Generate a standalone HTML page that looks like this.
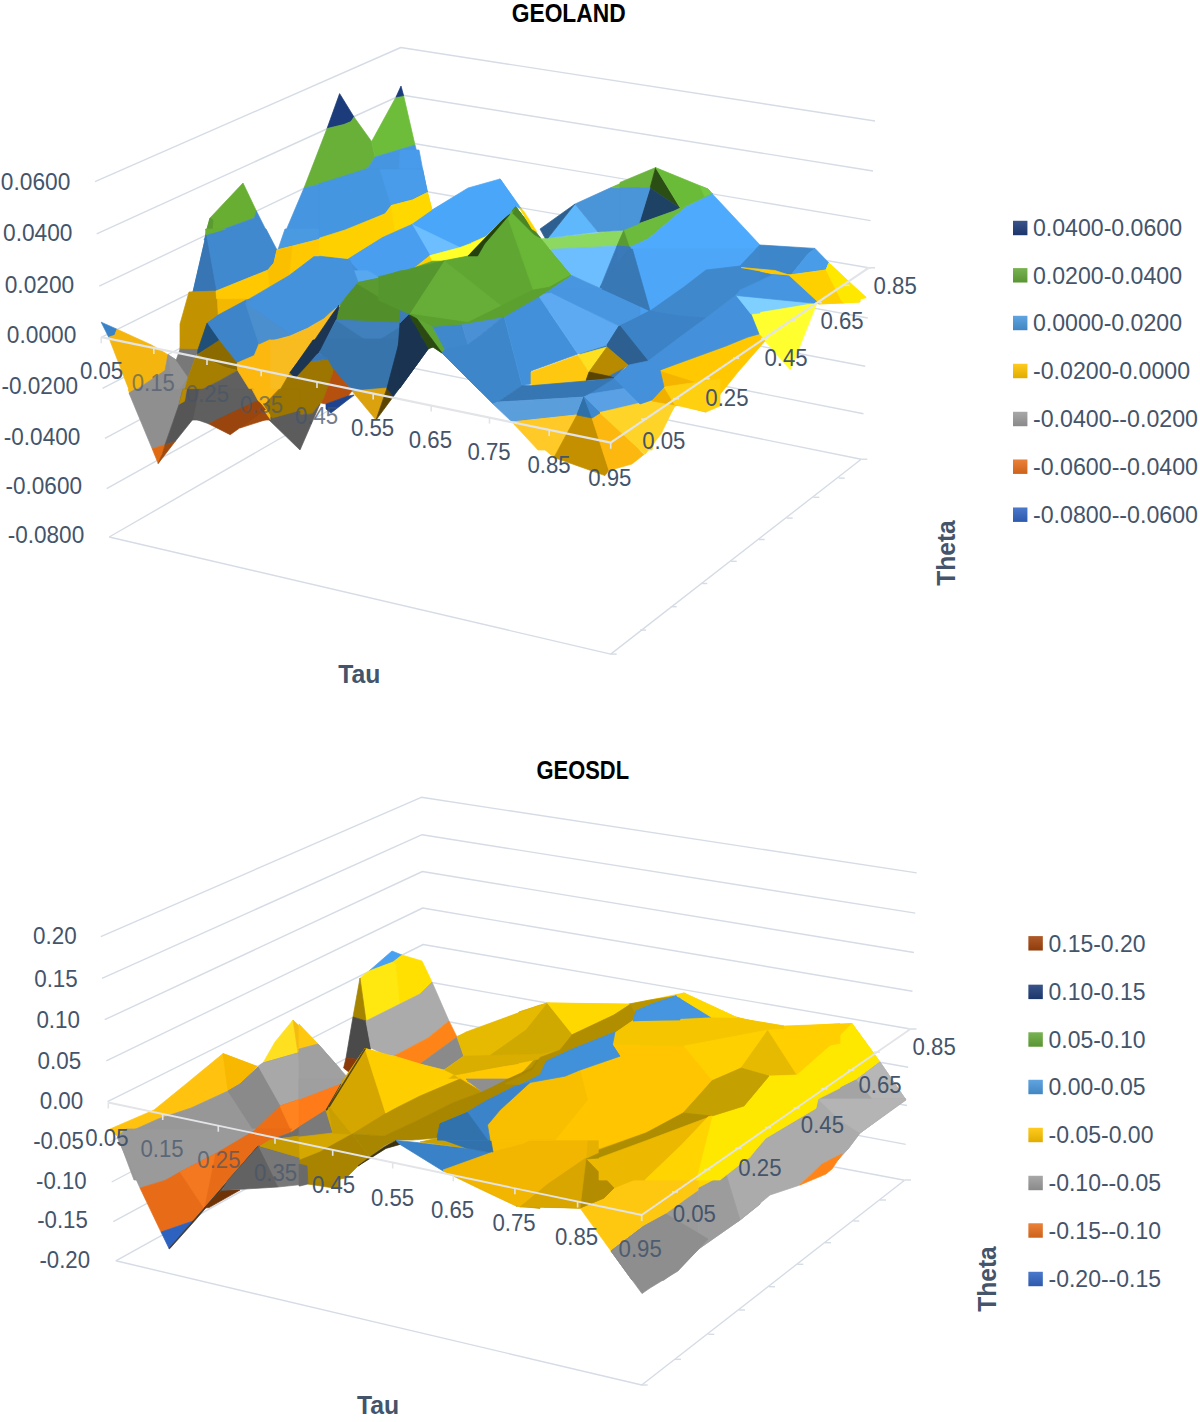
<!DOCTYPE html>
<html lang="en"><head><meta charset="utf-8"><title>GEOLAND / GEOSDL surface charts</title>
<style>
html,body{margin:0;padding:0;background:#fff;}
body{width:1200px;height:1422px;overflow:hidden;}
svg{display:block;font-family:"Liberation Sans", "DejaVu Sans", sans-serif;}
</style></head><body>
<svg width="1200" height="1422" viewBox="0 0 1200 1422">
<rect width="1200" height="1422" fill="#ffffff"/>
<defs>
<linearGradient id="sw" x1="0" y1="0" x2="0" y2="1"><stop offset="0" stop-color="#fff" stop-opacity="0.12"/><stop offset="1" stop-color="#000" stop-opacity="0.12"/></linearGradient>
</defs>

<g id='c1-walls'><polyline points="95.0,181.7 400.8,47.5 875.0,121.0" fill="none" stroke="#D6DCE5" stroke-width="1.4" stroke-linejoin="round"/>
<polyline points="96.7,233.8 401.3,95.0 873.0,171.0" fill="none" stroke="#D6DCE5" stroke-width="1.4" stroke-linejoin="round"/>
<polyline points="99.2,286.2 402.0,141.5 870.6,220.6" fill="none" stroke="#D6DCE5" stroke-width="1.4" stroke-linejoin="round"/>
<polyline points="101.2,337.3 402.6,187.5 868.6,267.8" fill="none" stroke="#D6DCE5" stroke-width="1.4" stroke-linejoin="round"/>
<polyline points="102.5,388.3 403.2,233.0 867.8,318.0" fill="none" stroke="#D6DCE5" stroke-width="1.4" stroke-linejoin="round"/>
<polyline points="105.0,438.3 403.8,278.0 865.2,366.2" fill="none" stroke="#D6DCE5" stroke-width="1.4" stroke-linejoin="round"/>
<polyline points="106.7,488.7 404.4,322.5 863.5,413.8" fill="none" stroke="#D6DCE5" stroke-width="1.4" stroke-linejoin="round"/>
<polyline points="109.2,537.0 405.0,366.5 861.2,459.3" fill="none" stroke="#D6DCE5" stroke-width="1.4" stroke-linejoin="round"/>
<polyline points="109.2,537 610.7,654.1 861.2,459.3" fill="none" stroke="#D6DCE5" stroke-width="1.4" stroke-linejoin="round"/>
<line x1="610.7" y1="654.1" x2="616.7" y2="654.1" stroke="#D6DCE5" stroke-width="1.4" />
<line x1="640.0" y1="630.1" x2="646.0" y2="630.1" stroke="#D6DCE5" stroke-width="1.4" />
<line x1="670.7" y1="606.7" x2="676.7" y2="606.7" stroke="#D6DCE5" stroke-width="1.4" />
<line x1="701.3" y1="583.5" x2="707.3" y2="583.5" stroke="#D6DCE5" stroke-width="1.4" />
<line x1="730.7" y1="561.3" x2="736.7" y2="561.3" stroke="#D6DCE5" stroke-width="1.4" />
<line x1="758.7" y1="539.5" x2="764.7" y2="539.5" stroke="#D6DCE5" stroke-width="1.4" />
<line x1="786.7" y1="518.1" x2="792.7" y2="518.1" stroke="#D6DCE5" stroke-width="1.4" />
<line x1="813.3" y1="497.3" x2="819.3" y2="497.3" stroke="#D6DCE5" stroke-width="1.4" />
<line x1="838.7" y1="478.1" x2="844.7" y2="478.1" stroke="#D6DCE5" stroke-width="1.4" />
<line x1="861.3" y1="459.2" x2="867.3" y2="459.2" stroke="#D6DCE5" stroke-width="1.4" />
<line x1="868.6" y1="267.8" x2="875.0" y2="267.8" stroke="#D6DCE5" stroke-width="1.4" /></g>
<g id='c1-surface'><polygon points="243.0,183.0 210.0,218.0 207.0,229.0 205.6,235.6 254.4,218.0 256.4,211.0" fill="#67AE33" stroke="#67AE33" stroke-width="0.7" stroke-linejoin="round"/>
<polygon points="210.0,218.0 207.0,229.0 205.6,235.6 212.0,234.0 213.0,220.0" fill="#5A9A32" stroke="#5A9A32" stroke-width="0.7" stroke-linejoin="round"/>
<polygon points="205.6,235.6 254.4,218.0 256.4,211.0 271.0,240.0 204.0,240.0" fill="#4189CE" stroke="#4189CE" stroke-width="0.7" stroke-linejoin="round"/>
<polygon points="339.6,93.6 327.0,128.6 344.0,124.4 351.0,121.6 354.0,117.0" fill="#1B3B7B" stroke="#1B3B7B" stroke-width="0.7" stroke-linejoin="round"/>
<polygon points="327.0,128.6 344.0,124.4 351.0,121.6 354.0,117.0 371.6,141.6 375.0,157.0 368.0,168.0 344.0,178.0 304.0,188.0" fill="#68B038" stroke="#68B038" stroke-width="0.7" stroke-linejoin="round"/>
<polygon points="371.6,141.6 396.0,97.0 403.6,95.6 415.0,145.0 375.0,157.0" fill="#6DBD3A" stroke="#6DBD3A" stroke-width="0.7" stroke-linejoin="round"/>
<polygon points="401.0,86.0 396.0,97.0 403.6,95.6" fill="#1B3B7B" stroke="#1B3B7B" stroke-width="0.7" stroke-linejoin="round"/>
<polygon points="304.0,188.0 344.0,178.0 368.0,168.0 375.0,157.0 415.0,145.0 420.0,164.0 420.0,195.0 392.0,205.0 386.0,212.0 352.0,228.0 316.0,239.0 312.0,240.0 282.0,240.0" fill="#4695E0" stroke="#4695E0" stroke-width="0.7" stroke-linejoin="round"/>
<polygon points="400.0,150.0 419.0,150.0 427.0,192.4 400.0,202.4 398.0,190.0" fill="#489BEA" stroke="#489BEA" stroke-width="0.7" stroke-linejoin="round"/>
<polygon points="400.0,202.4 427.0,192.4 432.0,210.0 412.0,224.0 400.0,228.4 398.0,216.0" fill="#FFD500" stroke="#FFD500" stroke-width="0.7" stroke-linejoin="round"/>
<polygon points="412.0,224.0 432.0,210.0 468.0,188.0 500.0,179.0 518.0,205.0 515.6,206.6 509.0,215.0 502.0,221.0 486.0,236.4 460.0,248.0 430.0,254.0" fill="#4AA6F8" stroke="#4AA6F8" stroke-width="0.7" stroke-linejoin="round"/>
<polygon points="400.0,228.4 412.0,224.0 430.0,254.0 426.0,257.0 416.0,267.0 400.0,272.0 398.0,250.0" fill="#4A9EF0" stroke="#4A9EF0" stroke-width="0.7" stroke-linejoin="round"/>
<polygon points="412.0,224.0 460.0,248.0 430.0,254.0" fill="#6CBEFF" stroke="#6CBEFF" stroke-width="0.7" stroke-linejoin="round"/>
<polygon points="430.0,254.0 460.0,248.0 486.0,236.4 502.0,221.0 470.0,254.0 467.0,257.0 442.0,261.0 416.0,267.0 426.0,257.0" fill="#FFD000" stroke="#FFD000" stroke-width="0.7" stroke-linejoin="round"/>
<polygon points="430.0,254.4 460.0,248.4 486.0,236.8 501.0,222.4 469.0,254.4 467.0,257.0 442.0,261.0" fill="#FFFF2A" stroke="#FFFF2A" stroke-width="0.7" stroke-linejoin="round"/>
<polygon points="509.0,215.0 502.0,221.0 470.0,254.0 468.0,256.0 477.0,256.0 484.0,244.0" fill="#24420E" stroke="#24420E" stroke-width="0.7" stroke-linejoin="round"/>
<polygon points="515.6,206.6 509.0,215.0 484.0,244.0 477.0,256.0 468.0,256.0 442.0,261.0 416.0,267.0 400.0,272.0 400.0,310.0 508.0,310.0 520.0,304.0 544.0,293.0 572.0,275.6 540.0,239.0" fill="#5FA732" stroke="#5FA732" stroke-width="0.7" stroke-linejoin="round"/>
<polygon points="509.6,216.0 515.6,206.6 540.0,239.0 572.0,275.6 544.0,293.0 532.0,288.0" fill="#6AB636" stroke="#6AB636" stroke-width="0.7" stroke-linejoin="round"/>
<polygon points="515.6,206.6 540.0,239.0 533.0,235.0 512.0,211.0" fill="#4A8526" stroke="#4A8526" stroke-width="0.7" stroke-linejoin="round"/>
<polygon points="400.0,272.0 416.0,267.0 444.0,261.0 412.0,310.0 400.0,310.0" fill="#56992D" stroke="#56992D" stroke-width="0.7" stroke-linejoin="round"/>
<polygon points="444.0,261.0 500.0,310.0 448.0,310.0" fill="#66AD38" stroke="#66AD38" stroke-width="0.7" stroke-linejoin="round"/>
<polygon points="532.0,288.0 544.0,293.0 520.0,304.0 528.0,295.0" fill="#7CC84A" stroke="#7CC84A" stroke-width="0.7" stroke-linejoin="round"/>
<polygon points="540.0,239.0 624.0,230.0 617.0,246.0 552.0,250.0 549.0,248.0" fill="#8CD860" stroke="#8CD860" stroke-width="0.7" stroke-linejoin="round"/>
<polygon points="624.0,230.0 640.0,225.0 640.0,244.0 630.0,247.6 617.0,246.0" fill="#6CBB3C" stroke="#6CBB3C" stroke-width="0.7" stroke-linejoin="round"/>
<polygon points="624.0,230.0 630.0,247.6 617.0,246.0" fill="#5A9A32" stroke="#5A9A32" stroke-width="0.7" stroke-linejoin="round"/>
<polygon points="575.0,204.0 598.0,232.0 548.0,238.0" fill="#60B8FC" stroke="#60B8FC" stroke-width="0.7" stroke-linejoin="round"/>
<polygon points="575.0,204.0 540.0,229.0 545.0,238.0 548.0,238.0" fill="#2D6090" stroke="#2D6090" stroke-width="0.7" stroke-linejoin="round"/>
<polygon points="575.0,204.0 611.0,187.6 630.0,188.0 640.0,186.0 640.0,225.0 624.0,230.0 598.0,232.0" fill="#4A94D8" stroke="#4A94D8" stroke-width="0.7" stroke-linejoin="round"/>
<polygon points="611.0,187.6 640.0,175.0 640.0,186.4 630.0,188.0" fill="#6CBB3C" stroke="#6CBB3C" stroke-width="0.7" stroke-linejoin="round"/>
<polygon points="550.0,249.4 617.0,246.0 600.0,287.6 586.0,282.0 572.0,275.6" fill="#6CBEFF" stroke="#6CBEFF" stroke-width="0.7" stroke-linejoin="round"/>
<polygon points="617.0,246.0 630.0,247.6 640.0,262.0 640.0,306.0 600.0,288.0" fill="#3878B8" stroke="#3878B8" stroke-width="0.7" stroke-linejoin="round"/>
<polygon points="630.0,247.6 640.0,244.0 640.0,262.0" fill="#4088CC" stroke="#4088CC" stroke-width="0.7" stroke-linejoin="round"/>
<polygon points="572.0,275.6 586.0,282.0 600.0,288.0 640.0,306.0 640.0,310.0 508.0,310.0 520.0,304.0 544.0,293.0" fill="#4896E0" stroke="#4896E0" stroke-width="0.7" stroke-linejoin="round"/>
<polygon points="620.0,182.4 655.6,167.6 650.0,187.6 620.0,188.0" fill="#6AB33C" stroke="#6AB33C" stroke-width="0.7" stroke-linejoin="round"/>
<polygon points="655.6,167.6 680.0,208.0 650.0,188.0" fill="#2B4E14" stroke="#2B4E14" stroke-width="0.7" stroke-linejoin="round"/>
<polygon points="650.0,188.0 680.0,208.0 674.0,211.0 639.0,223.6" fill="#1D4263" stroke="#1D4263" stroke-width="0.7" stroke-linejoin="round"/>
<polygon points="655.6,167.6 708.0,189.0 712.4,194.0 680.4,208.0" fill="#6ABB38" stroke="#6ABB38" stroke-width="0.7" stroke-linejoin="round"/>
<polygon points="700.0,186.0 708.0,189.0 712.4,194.0 705.0,197.4" fill="#74C842" stroke="#74C842" stroke-width="0.7" stroke-linejoin="round"/>
<polygon points="624.0,229.6 639.0,223.6 674.0,211.0 680.4,208.0 712.4,194.0 686.0,207.0 648.0,239.0 630.0,247.0" fill="#6CBB3C" stroke="#6CBB3C" stroke-width="0.7" stroke-linejoin="round"/>
<polygon points="620.0,188.0 650.0,187.6 639.0,223.6 624.0,229.6 620.0,230.0" fill="#4A94D8" stroke="#4A94D8" stroke-width="0.7" stroke-linejoin="round"/>
<polygon points="712.4,194.0 760.0,245.0 736.0,266.0 708.0,270.0 650.0,310.0 646.0,302.0 630.0,247.0 648.0,239.0 686.0,207.0" fill="#4DAAFC" stroke="#4DAAFC" stroke-width="0.7" stroke-linejoin="round"/>
<polygon points="617.0,246.0 630.0,247.0 646.0,302.0 650.0,310.0 620.0,310.0 617.0,290.0" fill="#3A7ABB" stroke="#3A7ABB" stroke-width="0.7" stroke-linejoin="round"/>
<polygon points="760.0,245.0 815.0,248.4 808.0,254.0 791.0,275.0 740.0,267.6 736.0,266.0" fill="#3E86CA" stroke="#3E86CA" stroke-width="0.7" stroke-linejoin="round"/>
<polygon points="815.0,248.4 829.0,263.0 826.0,270.0 791.0,275.0 808.0,254.0" fill="#489CE8" stroke="#489CE8" stroke-width="0.7" stroke-linejoin="round"/>
<polygon points="829.0,263.0 860.0,293.0 860.0,302.0 820.0,304.0 815.0,303.0 791.0,275.0 826.0,270.0" fill="#FFD500" stroke="#FFD500" stroke-width="0.7" stroke-linejoin="round"/>
<polygon points="829.0,263.0 860.0,293.0 860.0,302.0 842.0,303.0 826.0,270.0" fill="#FFE800" stroke="#FFE800" stroke-width="0.7" stroke-linejoin="round"/>
<polygon points="740.0,267.6 791.0,275.0 788.0,278.0" fill="#FFC800" stroke="#FFC800" stroke-width="0.7" stroke-linejoin="round"/>
<polygon points="708.0,270.0 736.0,266.0 740.0,267.6 788.0,278.0 744.0,288.0 728.0,298.0 686.0,310.0 650.0,310.0" fill="#3F86C9" stroke="#3F86C9" stroke-width="0.7" stroke-linejoin="round"/>
<polygon points="744.0,288.0 788.0,278.0 815.0,303.0 736.0,295.0" fill="#4595E0" stroke="#4595E0" stroke-width="0.7" stroke-linejoin="round"/>
<polygon points="736.0,295.0 815.0,303.0 780.0,310.0 748.0,310.0" fill="#80D0FF" stroke="#80D0FF" stroke-width="0.7" stroke-linejoin="round"/>
<polygon points="728.0,298.0 736.0,295.0 748.0,310.0 686.0,310.0" fill="#4896E0" stroke="#4896E0" stroke-width="0.7" stroke-linejoin="round"/>
<polygon points="780.0,310.0 815.0,303.0 810.0,310.0" fill="#FFFF40" stroke="#FFFF40" stroke-width="0.7" stroke-linejoin="round"/>
<polygon points="640.0,288.0 800.0,288.0 817.0,303.0 736.0,295.0 751.0,314.0 759.0,334.0 748.0,337.0 700.0,354.0 659.0,371.0 664.0,388.0 652.0,399.0 640.0,405.0 638.0,350.0" fill="#4590DA" stroke="#4590DA" stroke-width="0.7" stroke-linejoin="round"/>
<polygon points="648.0,311.0 680.0,298.0 736.0,295.0 740.0,304.0 708.0,318.0 660.0,332.0 640.0,327.0 640.0,316.0" fill="#3B7FC2" stroke="#3B7FC2" stroke-width="0.7" stroke-linejoin="round"/>
<polygon points="640.0,290.0 648.0,290.0 650.0,310.0 640.0,316.0" fill="#4A9EF0" stroke="#4A9EF0" stroke-width="0.7" stroke-linejoin="round"/>
<polygon points="640.0,348.0 648.0,360.0 640.0,366.0" fill="#2F5F90" stroke="#2F5F90" stroke-width="0.7" stroke-linejoin="round"/>
<polygon points="640.0,366.0 659.0,371.0 664.0,388.0 652.0,399.0 640.0,405.0" fill="#3A7CBE" stroke="#3A7CBE" stroke-width="0.7" stroke-linejoin="round"/>
<polygon points="736.0,295.0 817.0,303.0 751.0,314.0" fill="#80D0FF" stroke="#80D0FF" stroke-width="0.7" stroke-linejoin="round"/>
<polygon points="751.0,314.0 817.0,303.0 790.4,370.0 765.0,341.0 759.0,334.0" fill="#FFFF30" stroke="#FFFF30" stroke-width="0.7" stroke-linejoin="round"/>
<polygon points="800.0,289.0 838.0,289.0 818.0,303.6 814.0,302.0" fill="#FFCF00" stroke="#FFCF00" stroke-width="0.7" stroke-linejoin="round"/>
<polygon points="838.0,289.0 857.0,289.0 866.2,297.6 840.0,302.4 818.0,303.6" fill="#FFE800" stroke="#FFE800" stroke-width="0.7" stroke-linejoin="round"/>
<polygon points="659.0,371.0 700.0,354.0 724.0,346.0 748.0,337.0 759.0,334.0 765.0,341.0 738.0,372.0 706.0,412.0 680.0,405.0 674.0,406.0 652.0,399.0 664.0,388.0" fill="#FFC800" stroke="#FFC800" stroke-width="0.7" stroke-linejoin="round"/>
<polygon points="659.0,371.0 664.0,388.0 652.0,399.0 674.0,406.0 680.0,405.0 706.0,412.0 700.0,384.0" fill="#F5B400" stroke="#F5B400" stroke-width="0.7" stroke-linejoin="round"/>
<polygon points="640.0,404.6 653.0,399.0 675.0,406.0 656.0,436.0 652.0,450.0 640.0,450.0" fill="#FFD428" stroke="#FFD428" stroke-width="0.7" stroke-linejoin="round"/>
<polygon points="205.6,229.0 226.0,229.0 206.0,235.6" fill="#67AE33" stroke="#67AE33" stroke-width="0.7" stroke-linejoin="round"/>
<polygon points="206.0,235.6 226.0,230.0 266.0,229.0 277.0,250.0 274.0,263.0 268.0,270.0 216.0,291.0 193.0,292.0" fill="#4189CE" stroke="#4189CE" stroke-width="0.7" stroke-linejoin="round"/>
<polygon points="206.0,235.6 216.0,291.0 193.0,292.0" fill="#3775B4" stroke="#3775B4" stroke-width="0.7" stroke-linejoin="round"/>
<polygon points="285.0,229.0 348.0,229.0 318.0,239.6 278.0,249.6" fill="#4A9AE2" stroke="#4A9AE2" stroke-width="0.7" stroke-linejoin="round"/>
<polygon points="189.0,292.0 216.0,291.0 218.0,316.0 207.0,322.4 197.0,354.0 180.0,350.0 180.0,324.0" fill="#C49400" stroke="#C49400" stroke-width="0.7" stroke-linejoin="round"/>
<polygon points="216.0,291.0 268.0,270.0 274.0,263.0 277.0,250.0 318.0,239.6 348.0,230.0 397.0,230.0 348.0,258.0 314.0,256.6 289.0,275.6 244.0,302.0 218.0,316.0" fill="#FFC800" stroke="#FFC800" stroke-width="0.7" stroke-linejoin="round"/>
<polygon points="268.0,270.0 274.0,263.0 277.0,250.0 292.0,246.4 289.0,275.6 270.0,287.0" fill="#FAC000" stroke="#FAC000" stroke-width="0.7" stroke-linejoin="round"/>
<polygon points="244.0,302.0 289.0,275.6 314.0,256.6 348.0,258.0 356.0,283.0 340.0,305.0 328.0,314.0 308.0,328.0 290.0,336.0" fill="#4592DC" stroke="#4592DC" stroke-width="0.7" stroke-linejoin="round"/>
<polygon points="207.0,322.4 218.0,316.0 244.0,302.0 256.0,342.0 255.0,356.0 238.0,363.0 220.0,344.0" fill="#3F88CC" stroke="#3F88CC" stroke-width="0.7" stroke-linejoin="round"/>
<polygon points="244.0,302.0 290.0,336.0 260.0,344.0 255.0,356.0 256.0,342.0" fill="#4C8FCE" stroke="#4C8FCE" stroke-width="0.7" stroke-linejoin="round"/>
<polygon points="348.0,258.0 380.0,278.0 356.0,283.0" fill="#58A8F0" stroke="#58A8F0" stroke-width="0.7" stroke-linejoin="round"/>
<polygon points="348.0,258.0 397.0,230.0 420.0,229.0 420.0,264.0 380.0,278.0" fill="#4A9EEE" stroke="#4A9EEE" stroke-width="0.7" stroke-linejoin="round"/>
<polygon points="356.0,283.0 380.0,278.0 420.0,264.0 420.0,307.0 408.0,315.0 406.0,323.0 384.0,323.0 336.0,320.0 340.0,305.0" fill="#528F2B" stroke="#528F2B" stroke-width="0.7" stroke-linejoin="round"/>
<polygon points="356.0,283.0 380.0,278.0 420.0,264.0 420.0,307.0 409.0,315.0" fill="#5A9A30" stroke="#5A9A30" stroke-width="0.7" stroke-linejoin="round"/>
<polygon points="408.0,315.0 420.0,307.0 420.0,324.0 406.0,323.0" fill="#6AB636" stroke="#6AB636" stroke-width="0.7" stroke-linejoin="round"/>
<polygon points="406.0,323.0 420.0,323.6 420.0,338.0" fill="#2A4A12" stroke="#2A4A12" stroke-width="0.7" stroke-linejoin="round"/>
<polygon points="238.0,363.0 255.0,356.0 260.0,344.0 276.0,390.0 248.0,390.0" fill="#FDB80F" stroke="#FDB80F" stroke-width="0.7" stroke-linejoin="round"/>
<polygon points="260.0,344.0 290.0,336.0 308.0,328.0 328.0,314.0 340.0,305.0 334.0,316.0 320.0,342.0 292.0,374.0 278.0,390.0 276.0,390.0" fill="#F8BC20" stroke="#F8BC20" stroke-width="0.7" stroke-linejoin="round"/>
<polygon points="339.0,307.0 336.0,320.0 320.0,350.0 310.0,360.0 295.0,374.0 292.0,374.0 320.0,342.0 334.0,316.0" fill="#1B3553" stroke="#1B3553" stroke-width="0.7" stroke-linejoin="round"/>
<polygon points="336.0,320.0 384.0,323.0 406.0,323.0 400.0,346.0 386.0,390.0 356.0,390.0 334.0,374.0 324.0,359.0 320.0,350.0" fill="#3A76AE" stroke="#3A76AE" stroke-width="0.7" stroke-linejoin="round"/>
<polygon points="336.0,320.0 406.0,323.0 372.0,344.0" fill="#4080BC" stroke="#4080BC" stroke-width="0.7" stroke-linejoin="round"/>
<polygon points="406.0,323.0 420.0,338.0 420.0,360.0 398.0,390.0 386.0,390.0 400.0,346.0" fill="#1A3350" stroke="#1A3350" stroke-width="0.7" stroke-linejoin="round"/>
<polygon points="207.0,322.4 220.0,344.0 199.0,351.0" fill="#2C5E90" stroke="#2C5E90" stroke-width="0.7" stroke-linejoin="round"/>
<polygon points="240.0,339.0 264.0,339.0 255.0,357.0 240.0,362.0" fill="#3F88CC" stroke="#3F88CC" stroke-width="0.7" stroke-linejoin="round"/>
<polygon points="240.0,362.0 255.0,357.0 260.0,375.0 261.0,406.0 240.0,374.0" fill="#FDB80F" stroke="#FDB80F" stroke-width="0.7" stroke-linejoin="round"/>
<polygon points="255.0,357.0 264.0,340.0 313.0,340.0 290.0,373.0 274.0,400.0 267.0,418.0 261.0,406.0 260.0,375.0" fill="#F8BC20" stroke="#F8BC20" stroke-width="0.7" stroke-linejoin="round"/>
<polygon points="255.0,357.0 260.0,375.0 261.0,406.0 267.0,418.0 270.0,408.0 262.0,370.0" fill="#EBB010" stroke="#EBB010" stroke-width="0.7" stroke-linejoin="round"/>
<polygon points="240.0,374.0 261.0,406.0 240.0,409.0" fill="#5F5F5F" stroke="#5F5F5F" stroke-width="0.7" stroke-linejoin="round"/>
<polygon points="240.0,409.0 261.0,406.0 268.0,419.0 240.0,428.0" fill="#A04A0E" stroke="#A04A0E" stroke-width="0.7" stroke-linejoin="round"/>
<polygon points="313.0,340.0 324.0,340.0 319.0,353.0 306.0,362.0 294.0,376.0 290.0,373.0" fill="#1B3553" stroke="#1B3553" stroke-width="0.7" stroke-linejoin="round"/>
<polygon points="274.0,400.0 290.0,373.0 294.0,376.0 306.0,362.0 328.0,359.0 334.0,370.0 324.0,398.0 320.0,404.0 312.0,414.0 272.0,417.0 267.0,418.0" fill="#9C7600" stroke="#9C7600" stroke-width="0.7" stroke-linejoin="round"/>
<polygon points="267.0,418.0 272.0,417.0 312.0,414.0 320.0,404.0 300.0,450.0" fill="#5C5C5C" stroke="#5C5C5C" stroke-width="0.7" stroke-linejoin="round"/>
<polygon points="324.0,339.0 400.0,339.0 387.0,388.0 352.0,391.0 334.0,370.0 328.0,359.0 319.0,353.0" fill="#3874AC" stroke="#3874AC" stroke-width="0.7" stroke-linejoin="round"/>
<polygon points="319.0,353.0 328.0,359.0 306.0,362.0" fill="#3878B8" stroke="#3878B8" stroke-width="0.7" stroke-linejoin="round"/>
<polygon points="334.0,370.0 352.0,391.0 348.0,396.0 326.0,404.0 321.0,403.0 324.0,398.0" fill="#B5500F" stroke="#B5500F" stroke-width="0.7" stroke-linejoin="round"/>
<polygon points="326.0,404.0 348.0,396.0 354.0,395.0 331.0,413.0 326.0,409.0" fill="#1E4490" stroke="#1E4490" stroke-width="0.7" stroke-linejoin="round"/>
<polygon points="352.0,391.0 387.0,388.0 376.0,420.0" fill="#DBA20E" stroke="#DBA20E" stroke-width="0.7" stroke-linejoin="round"/>
<polygon points="387.0,388.0 393.0,397.0 376.0,420.0" fill="#5A4400" stroke="#5A4400" stroke-width="0.7" stroke-linejoin="round"/>
<polygon points="400.0,339.0 420.0,339.0 429.0,348.0 393.0,397.0 387.0,388.0" fill="#1A3350" stroke="#1A3350" stroke-width="0.7" stroke-linejoin="round"/>
<polygon points="420.0,339.0 432.0,339.0 433.0,347.0 429.0,348.0" fill="#2A4A12" stroke="#2A4A12" stroke-width="0.7" stroke-linejoin="round"/>
<polygon points="432.0,339.0 442.0,339.0 446.0,350.0 442.0,353.0 433.0,347.0" fill="#5AA030" stroke="#5AA030" stroke-width="0.7" stroke-linejoin="round"/>
<polygon points="442.0,339.0 480.0,339.0 480.0,391.0 442.0,353.0 446.0,350.0" fill="#3E86CA" stroke="#3E86CA" stroke-width="0.7" stroke-linejoin="round"/>
<polygon points="101.2,322.2 117.0,329.2 114.7,335.2 108.7,337.2" fill="#3A82C8" stroke="#3A82C8" stroke-width="0.7" stroke-linejoin="round"/>
<polygon points="117.0,329.2 151.5,345.0 168.0,354.7 165.0,370.5 130.5,393.7 108.7,337.2 114.7,335.2" fill="#F5B50F" stroke="#F5B50F" stroke-width="0.7" stroke-linejoin="round"/>
<polygon points="168.0,354.7 176.2,360.0 188.2,377.2 178.5,405.0 175.5,420.0 141.0,420.0 130.5,393.7 165.0,370.5" fill="#8F8F8F" stroke="#8F8F8F" stroke-width="0.7" stroke-linejoin="round"/>
<polygon points="168.0,354.7 176.2,360.0 188.2,377.2 174.0,396.0" fill="#949494" stroke="#949494" stroke-width="0.7" stroke-linejoin="round"/>
<polygon points="189.0,299.3 217.5,299.3 218.2,315.0 207.0,323.2 198.0,349.5 180.0,349.2 186.0,315.0" fill="#C29200" stroke="#C29200" stroke-width="0.7" stroke-linejoin="round"/>
<polygon points="217.5,299.3 246.0,299.3 218.2,315.0" fill="#F5B800" stroke="#F5B800" stroke-width="0.7" stroke-linejoin="round"/>
<polygon points="180.0,349.2 198.0,349.5 195.0,358.5 188.2,377.2 176.2,360.0" fill="#787878" stroke="#787878" stroke-width="0.7" stroke-linejoin="round"/>
<polygon points="207.0,323.2 218.2,315.0 246.0,300.0 270.0,300.0 270.0,337.5 259.5,342.7 254.2,355.5 237.0,363.0 219.0,340.5" fill="#3D85C8" stroke="#3D85C8" stroke-width="0.7" stroke-linejoin="round"/>
<polygon points="246.0,300.0 270.0,300.0 270.0,337.5 259.5,342.7" fill="#4A90D0" stroke="#4A90D0" stroke-width="0.7" stroke-linejoin="round"/>
<polygon points="207.0,323.2 219.0,340.5 197.2,354.7 198.0,349.5" fill="#1F4E79" stroke="#1F4E79" stroke-width="0.7" stroke-linejoin="round"/>
<polygon points="197.2,354.7 219.0,340.5 237.0,363.0 237.7,370.5 225.0,367.5" fill="#8B6A00" stroke="#8B6A00" stroke-width="0.7" stroke-linejoin="round"/>
<polygon points="195.0,358.5 197.2,354.7 225.0,367.5 237.7,370.5 219.0,381.0 198.0,391.5 180.0,403.5 188.2,377.2" fill="#A67E00" stroke="#A67E00" stroke-width="0.7" stroke-linejoin="round"/>
<polygon points="180.0,403.5 198.0,391.5 219.0,381.0 237.7,370.5 256.5,400.5 217.5,420.0 175.5,420.0 178.5,405.0" fill="#606060" stroke="#606060" stroke-width="0.7" stroke-linejoin="round"/>
<polygon points="237.0,363.0 254.2,355.5 259.5,342.7 270.0,337.5 270.0,420.0 256.5,400.5 237.7,370.5" fill="#FDB80F" stroke="#FDB80F" stroke-width="0.7" stroke-linejoin="round"/>
<polygon points="217.5,420.0 256.5,400.5 270.0,420.0" fill="#A04A0E" stroke="#A04A0E" stroke-width="0.7" stroke-linejoin="round"/>
<polygon points="128.2,389.3 135.0,389.3 129.7,393.7" fill="#F5B50F" stroke="#F5B50F" stroke-width="0.7" stroke-linejoin="round"/>
<polygon points="129.0,393.0 135.0,389.3 183.0,389.3 179.2,404.2 165.0,444.7 152.2,448.8" fill="#8F8F8F" stroke="#8F8F8F" stroke-width="0.7" stroke-linejoin="round"/>
<polygon points="152.2,448.8 165.0,444.7 161.2,456.0 158.2,463.5" fill="#E06A12" stroke="#E06A12" stroke-width="0.7" stroke-linejoin="round"/>
<polygon points="165.0,444.7 175.5,441.0 158.2,463.5 162.0,454.5" fill="#A04A0E" stroke="#A04A0E" stroke-width="0.7" stroke-linejoin="round"/>
<polygon points="179.2,404.2 183.0,389.3 199.5,389.3 193.5,418.5 175.5,441.0 165.0,444.7" fill="#565656" stroke="#565656" stroke-width="0.7" stroke-linejoin="round"/>
<polygon points="183.0,389.3 186.7,389.3 184.5,401.2 179.2,404.2" fill="#B88A00" stroke="#B88A00" stroke-width="0.7" stroke-linejoin="round"/>
<polygon points="199.5,389.3 253.5,389.3 258.0,400.5 208.5,423.7 193.5,418.5" fill="#5F5F5F" stroke="#5F5F5F" stroke-width="0.7" stroke-linejoin="round"/>
<polygon points="208.5,423.7 258.0,400.5 265.5,409.5 230.2,434.7" fill="#9A450E" stroke="#9A450E" stroke-width="0.7" stroke-linejoin="round"/>
<polygon points="252.0,389.3 279.0,389.3 264.0,405.0 258.0,400.5" fill="#FDB80F" stroke="#FDB80F" stroke-width="0.7" stroke-linejoin="round"/>
<polygon points="279.0,389.3 300.0,389.3 300.0,411.0 273.0,418.5 264.0,405.0" fill="#9C7600" stroke="#9C7600" stroke-width="0.7" stroke-linejoin="round"/>
<polygon points="273.0,418.5 300.0,411.0 300.0,448.5" fill="#5C5C5C" stroke="#5C5C5C" stroke-width="0.7" stroke-linejoin="round"/>
<polygon points="580.0,350.0 608.0,344.0 628.0,364.0 614.0,379.0 580.0,380.0" fill="#3A78B4" stroke="#3A78B4" stroke-width="0.7" stroke-linejoin="round"/>
<polygon points="400.0,289.0 550.0,289.0 538.0,295.0 504.0,316.0 462.0,324.0 432.0,325.6 445.0,349.6 442.0,353.0 412.0,312.0 400.0,310.0" fill="#5FA732" stroke="#5FA732" stroke-width="0.7" stroke-linejoin="round"/>
<polygon points="400.0,289.0 418.0,289.0 410.0,312.0 400.0,310.0" fill="#5A9E30" stroke="#5A9E30" stroke-width="0.7" stroke-linejoin="round"/>
<polygon points="454.0,289.0 492.0,289.0 500.0,308.0" fill="#68B236" stroke="#68B236" stroke-width="0.7" stroke-linejoin="round"/>
<polygon points="492.0,289.0 550.0,289.0 538.0,295.0 500.0,308.0" fill="#66B034" stroke="#66B034" stroke-width="0.7" stroke-linejoin="round"/>
<polygon points="408.0,313.0 412.0,312.0 442.0,353.0 433.0,347.0 428.0,349.0" fill="#2A4A12" stroke="#2A4A12" stroke-width="0.7" stroke-linejoin="round"/>
<polygon points="400.0,323.0 408.0,313.6 428.0,349.0 400.0,388.0 398.0,350.0" fill="#1A3350" stroke="#1A3350" stroke-width="0.7" stroke-linejoin="round"/>
<polygon points="400.0,310.0 409.0,314.0 400.0,323.0" fill="#3E7CB8" stroke="#3E7CB8" stroke-width="0.7" stroke-linejoin="round"/>
<polygon points="432.0,325.6 462.0,324.0 468.0,345.0 445.0,349.6" fill="#3F88CC" stroke="#3F88CC" stroke-width="0.7" stroke-linejoin="round"/>
<polygon points="462.0,324.0 504.0,316.0 468.0,345.0" fill="#4A90D4" stroke="#4A90D4" stroke-width="0.7" stroke-linejoin="round"/>
<polygon points="445.0,349.6 468.0,345.0 504.0,316.0 522.0,385.6 498.0,402.0 493.0,404.0 442.0,353.0" fill="#3E86CA" stroke="#3E86CA" stroke-width="0.7" stroke-linejoin="round"/>
<polygon points="504.0,316.0 538.0,295.0 578.0,354.0 531.0,371.0 531.0,384.0 522.0,385.6" fill="#4390DA" stroke="#4390DA" stroke-width="0.7" stroke-linejoin="round"/>
<polygon points="538.0,295.0 552.0,293.0 619.0,326.0 607.0,345.0 578.0,354.0" fill="#5DAAF3" stroke="#5DAAF3" stroke-width="0.7" stroke-linejoin="round"/>
<polygon points="550.0,289.0 602.0,289.0 640.0,306.0 640.0,318.0 619.0,326.0 552.0,293.0" fill="#4896E0" stroke="#4896E0" stroke-width="0.7" stroke-linejoin="round"/>
<polygon points="602.0,289.0 640.0,289.0 640.0,306.0" fill="#3A7ABB" stroke="#3A7ABB" stroke-width="0.7" stroke-linejoin="round"/>
<polygon points="619.0,326.0 640.0,318.0 640.0,359.0 629.0,365.0 607.0,345.0" fill="#3878B8" stroke="#3878B8" stroke-width="0.7" stroke-linejoin="round"/>
<polygon points="619.0,326.0 632.0,350.0 629.0,365.0 607.0,345.0" fill="#2D6090" stroke="#2D6090" stroke-width="0.7" stroke-linejoin="round"/>
<polygon points="531.0,372.0 578.0,355.0 589.0,372.0 586.0,381.0 532.0,385.6 531.0,384.0" fill="#FFC810" stroke="#FFC810" stroke-width="0.7" stroke-linejoin="round"/>
<polygon points="578.0,355.0 607.0,347.0 589.0,372.0" fill="#FFE020" stroke="#FFE020" stroke-width="0.7" stroke-linejoin="round"/>
<polygon points="607.0,347.0 629.0,365.0 608.0,376.0 589.0,372.0" fill="#B88A00" stroke="#B88A00" stroke-width="0.7" stroke-linejoin="round"/>
<polygon points="589.0,372.0 608.0,376.0 615.0,378.0 586.0,380.4" fill="#5A4400" stroke="#5A4400" stroke-width="0.7" stroke-linejoin="round"/>
<polygon points="532.0,385.6 586.0,381.0 615.0,378.0 629.0,365.0 640.0,359.0 640.0,374.0 590.0,394.0 584.0,397.0 498.0,402.0 522.0,385.6" fill="#3676B2" stroke="#3676B2" stroke-width="0.7" stroke-linejoin="round"/>
<polygon points="615.0,378.0 640.0,359.0 640.0,386.0 590.0,394.0" fill="#3F86CA" stroke="#3F86CA" stroke-width="0.7" stroke-linejoin="round"/>
<polygon points="493.0,404.0 498.0,402.0 584.0,397.0 577.0,415.0 512.0,422.0" fill="#5A9EDC" stroke="#5A9EDC" stroke-width="0.7" stroke-linejoin="round"/>
<polygon points="584.0,397.0 590.0,394.0 640.0,386.0 640.0,404.0 600.0,412.0 592.0,418.0 577.0,415.0" fill="#3F88CC" stroke="#3F88CC" stroke-width="0.7" stroke-linejoin="round"/>
<polygon points="584.0,397.0 592.0,418.0 577.0,415.0" fill="#3070A8" stroke="#3070A8" stroke-width="0.7" stroke-linejoin="round"/>
<polygon points="584.0,397.0 590.0,394.0 640.0,386.0 640.0,403.0 600.0,412.4" fill="#5AA0E4" stroke="#5AA0E4" stroke-width="0.7" stroke-linejoin="round"/>
<polygon points="512.0,422.0 577.0,415.0 558.0,450.0 538.0,450.0" fill="#FFC928" stroke="#FFC928" stroke-width="0.7" stroke-linejoin="round"/>
<polygon points="577.0,415.0 592.0,418.0 602.0,450.0 558.0,450.0" fill="#C49000" stroke="#C49000" stroke-width="0.7" stroke-linejoin="round"/>
<polygon points="592.0,418.0 600.0,412.4 640.0,450.0 602.0,450.0" fill="#FDB80F" stroke="#FDB80F" stroke-width="0.7" stroke-linejoin="round"/>
<polygon points="600.0,412.4 640.0,403.0 640.0,450.0" fill="#FFD428" stroke="#FFD428" stroke-width="0.7" stroke-linejoin="round"/>
<polygon points="512.0,422.0 577.0,415.0 568.0,432.0 554.0,457.4" fill="#FFC928" stroke="#FFC928" stroke-width="0.7" stroke-linejoin="round"/>
<polygon points="577.0,415.0 592.0,418.0 609.0,470.0 605.0,475.6 554.0,457.4" fill="#C49000" stroke="#C49000" stroke-width="0.7" stroke-linejoin="round"/>
<polygon points="592.0,418.0 600.0,413.0 644.0,454.4 632.0,464.0 609.0,470.4" fill="#FDB80F" stroke="#FDB80F" stroke-width="0.7" stroke-linejoin="round"/>
<polygon points="600.0,413.0 651.0,402.0 654.0,400.0 675.0,405.0 661.0,434.0 645.0,454.4" fill="#FFD428" stroke="#FFD428" stroke-width="0.7" stroke-linejoin="round"/>
<polygon points="652.0,401.0 664.0,387.0 675.0,405.0" fill="#F0B000" stroke="#F0B000" stroke-width="0.7" stroke-linejoin="round"/>
<polygon points="664.0,387.0 720.0,379.0 720.0,406.0 706.0,412.0 675.0,405.0" fill="#FFD010" stroke="#FFD010" stroke-width="0.7" stroke-linejoin="round"/>
<polygon points="584.0,397.0 592.0,418.0 577.0,415.0" fill="#3070A8" stroke="#3070A8" stroke-width="0.7" stroke-linejoin="round"/>
<polygon points="584.0,397.0 600.0,413.0 592.0,418.0" fill="#3F88CC" stroke="#3F88CC" stroke-width="0.7" stroke-linejoin="round"/>
<polygon points="632.0,249.0 756.0,249.0 760.0,245.0 740.0,266.0 706.0,270.0 684.0,287.0 650.0,311.0" fill="#4DA6F8" stroke="#4DA6F8" stroke-width="0.7" stroke-linejoin="round"/>
<polygon points="629.0,249.0 600.0,287.0 650.0,311.0 632.4,249.0" fill="#3878B4" stroke="#3878B4" stroke-width="0.7" stroke-linejoin="round"/>
<polygon points="650.0,311.0 684.0,287.0 706.0,270.0 740.0,266.0 760.0,245.0 760.0,284.0 736.0,295.0 706.0,318.0 680.0,337.0 648.0,361.0 620.0,326.0" fill="#4088CC" stroke="#4088CC" stroke-width="0.7" stroke-linejoin="round"/>
<polygon points="620.0,326.0 650.0,311.0 680.0,316.0 706.0,318.0 680.0,337.0 648.0,361.0" fill="#3C82C6" stroke="#3C82C6" stroke-width="0.7" stroke-linejoin="round"/>
<polygon points="620.0,326.0 648.0,361.0 629.0,365.0 607.0,346.0" fill="#2D6090" stroke="#2D6090" stroke-width="0.7" stroke-linejoin="round"/>
<polygon points="648.0,361.0 680.0,337.0 706.0,318.0 736.0,295.0 751.0,314.0 759.0,334.0 748.0,337.0 726.0,346.0 660.0,370.0 664.0,387.0 652.0,400.0 640.0,404.0 614.0,378.0 629.0,365.0" fill="#4590DA" stroke="#4590DA" stroke-width="0.7" stroke-linejoin="round"/>
<polygon points="736.0,295.0 760.0,298.0 760.0,313.0 751.0,314.0" fill="#80D0FF" stroke="#80D0FF" stroke-width="0.7" stroke-linejoin="round"/>
<polygon points="319.4,183.8 365.0,169.4 422.5,169.4 427.5,192.5 412.5,200.0 391.2,205.6 385.0,213.8 345.0,230.0 320.0,238.1 319.4,238.1" fill="#4596E0" stroke="#4596E0" stroke-width="0.7" stroke-linejoin="round"/>
<polygon points="380.0,169.4 422.5,169.4 427.5,192.5 412.5,200.0 391.2,205.6" fill="#489CEA" stroke="#489CEA" stroke-width="0.7" stroke-linejoin="round"/>
<polygon points="319.4,238.1 345.0,230.0 385.0,213.8 391.2,205.6 412.5,200.0 427.5,192.5 431.9,210.0 411.9,224.4 382.5,237.5 347.5,259.4 320.0,256.2 319.4,256.2" fill="#FFD000" stroke="#FFD000" stroke-width="0.7" stroke-linejoin="round"/>
<polygon points="391.2,205.6 412.5,200.0 427.5,192.5 431.9,210.0 411.9,224.4 395.0,230.0" fill="#FFD800" stroke="#FFD800" stroke-width="0.7" stroke-linejoin="round"/>
<polygon points="432.5,210.0 470.0,188.8 470.0,243.8 460.0,247.5 411.9,224.4" fill="#4AA6F8" stroke="#4AA6F8" stroke-width="0.7" stroke-linejoin="round"/>
<polygon points="411.9,224.4 460.0,247.5 430.0,255.6" fill="#6CBEFF" stroke="#6CBEFF" stroke-width="0.7" stroke-linejoin="round"/>
<polygon points="347.5,259.4 382.5,237.5 411.9,224.4 430.0,255.6 415.0,267.5 407.5,270.0 357.5,270.0" fill="#4A9EF0" stroke="#4A9EF0" stroke-width="0.7" stroke-linejoin="round"/>
<polygon points="319.4,256.2 347.5,259.4 357.5,270.0 319.4,270.0" fill="#4090D8" stroke="#4090D8" stroke-width="0.7" stroke-linejoin="round"/>
<polygon points="430.0,255.6 432.5,261.2 415.0,267.5" fill="#FFD000" stroke="#FFD000" stroke-width="0.7" stroke-linejoin="round"/>
<polygon points="430.0,255.6 460.0,247.5 470.0,243.8 470.0,256.2 445.0,261.2 432.5,261.2" fill="#FFFF2A" stroke="#FFFF2A" stroke-width="0.7" stroke-linejoin="round"/>
<polygon points="415.0,267.5 432.5,261.2 445.0,261.2 470.0,256.2 470.0,270.0 407.5,270.0" fill="#5FA732" stroke="#5FA732" stroke-width="0.7" stroke-linejoin="round"/>
<polygon points="245.6,303.6 270.0,291.0 316.0,257.0 350.0,260.0 358.0,282.0 338.0,305.0 324.0,318.0 308.0,327.0 290.0,334.0" fill="#4592DC" stroke="#4592DC" stroke-width="0.7" stroke-linejoin="round"/>
<polygon points="245.6,303.6 290.0,334.0 270.0,339.0 259.0,344.0" fill="#4C8FCE" stroke="#4C8FCE" stroke-width="0.7" stroke-linejoin="round"/>
<polygon points="339.0,305.0 335.0,320.0 320.0,350.0 308.0,364.0 295.0,378.0 290.0,372.4 316.0,338.0 331.0,316.0" fill="#1B3553" stroke="#1B3553" stroke-width="0.7" stroke-linejoin="round"/>
<polygon points="444.0,260.7 472.0,255.3 508.0,218.0 533.3,290.0 501.3,306.0" fill="#5FA732" stroke="#5FA732" stroke-width="0.7" stroke-linejoin="round"/>
<polygon points="444.0,260.7 501.3,306.0 468.0,322.5 409.3,314.0" fill="#66AE38" stroke="#66AE38" stroke-width="0.7" stroke-linejoin="round"/>
<polygon points="378.7,276.7 444.0,260.7 409.3,314.0 380.0,300.7 378.7,300.7" fill="#56962E" stroke="#56962E" stroke-width="0.7" stroke-linejoin="round"/>
<polygon points="508.0,218.0 516.0,207.9 570.7,275.3 549.3,287.3 533.3,290.0" fill="#6AB636" stroke="#6AB636" stroke-width="0.7" stroke-linejoin="round"/>
<polygon points="409.3,314.0 468.0,322.5 501.3,306.0 533.3,290.0 549.3,287.3 570.7,275.3 540.0,295.9 504.0,316.7 462.7,323.9 433.3,326.5" fill="#5CA030" stroke="#5CA030" stroke-width="0.7" stroke-linejoin="round"/>
<polygon points="509.6,214.5 501.9,220.9 469.9,254.0 468.0,255.9 477.6,255.9 484.5,243.9" fill="#24420E" stroke="#24420E" stroke-width="0.7" stroke-linejoin="round"/>
<polygon points="516.0,207.3 540.5,238.0 534.1,234.5 512.8,213.2" fill="#4A8526" stroke="#4A8526" stroke-width="0.7" stroke-linejoin="round"/>
<polygon points="740.0,290.0 775.0,273.8 790.0,275.5 820.0,303.8 736.2,295.5" fill="#4595E0" stroke="#4595E0" stroke-width="0.7" stroke-linejoin="round"/>
<polygon points="788.8,275.0 826.2,270.0 841.2,300.0 843.8,303.0 820.0,303.8" fill="#FFD000" stroke="#FFD000" stroke-width="0.7" stroke-linejoin="round"/>
<polygon points="826.2,270.0 828.8,263.0 866.2,297.5 843.8,303.0 841.2,300.0" fill="#FFE800" stroke="#FFE800" stroke-width="0.7" stroke-linejoin="round"/>
<polygon points="741.2,267.5 775.0,270.5 788.8,275.0 775.0,273.8" fill="#FFC800" stroke="#FFC800" stroke-width="0.7" stroke-linejoin="round"/>
<polygon points="500.0,178.8 522.5,210.5 518.8,208.0 515.0,205.0" fill="#4AA6F8" stroke="#4AA6F8" stroke-width="0.7" stroke-linejoin="round"/>
<polygon points="519.5,208.0 523.8,211.2 537.0,232.0 532.0,229.0" fill="#FFD800" stroke="#FFD800" stroke-width="0.7" stroke-linejoin="round"/></g>
<g id='c1-axes'><polyline points="101.25,337.2 610.7,442.7 868.6,267.8" fill="none" stroke="#E2E4E8" stroke-width="2.2" stroke-linejoin="round"/>
<line x1="101.2" y1="337.2" x2="101.2" y2="343.2" stroke="#E2E4E8" stroke-width="1.6" />
<line x1="153.8" y1="348.1" x2="153.8" y2="354.1" stroke="#E2E4E8" stroke-width="1.6" />
<line x1="207.0" y1="359.1" x2="207.0" y2="365.1" stroke="#E2E4E8" stroke-width="1.6" />
<line x1="261.2" y1="370.3" x2="261.2" y2="376.3" stroke="#E2E4E8" stroke-width="1.6" />
<line x1="317.0" y1="381.9" x2="317.0" y2="387.9" stroke="#E2E4E8" stroke-width="1.6" />
<line x1="373.2" y1="393.5" x2="373.2" y2="399.5" stroke="#E2E4E8" stroke-width="1.6" />
<line x1="431.2" y1="405.5" x2="431.2" y2="411.5" stroke="#E2E4E8" stroke-width="1.6" />
<line x1="489.5" y1="417.6" x2="489.5" y2="423.6" stroke="#E2E4E8" stroke-width="1.6" />
<line x1="549.2" y1="430.0" x2="549.2" y2="436.0" stroke="#E2E4E8" stroke-width="1.6" />
<line x1="610.7" y1="442.7" x2="610.7" y2="448.7" stroke="#E2E4E8" stroke-width="1.6" />
<line x1="641.0" y1="419.2" x2="647.0" y2="419.2" stroke="#E2E4E8" stroke-width="1.6" />
<line x1="673.0" y1="398.7" x2="679.0" y2="398.7" stroke="#E2E4E8" stroke-width="1.6" />
<line x1="703.7" y1="378.7" x2="709.7" y2="378.7" stroke="#E2E4E8" stroke-width="1.6" />
<line x1="733.0" y1="358.1" x2="739.0" y2="358.1" stroke="#E2E4E8" stroke-width="1.6" />
<line x1="761.0" y1="338.7" x2="767.0" y2="338.7" stroke="#E2E4E8" stroke-width="1.6" />
<line x1="789.0" y1="320.0" x2="795.0" y2="320.0" stroke="#E2E4E8" stroke-width="1.6" />
<line x1="815.7" y1="302.7" x2="821.7" y2="302.7" stroke="#E2E4E8" stroke-width="1.6" />
<line x1="843.7" y1="285.3" x2="849.7" y2="285.3" stroke="#E2E4E8" stroke-width="1.6" />
<line x1="865.0" y1="268.0" x2="871.0" y2="268.0" stroke="#E2E4E8" stroke-width="1.6" /></g>
<g id='c1-labels'><text x="80.0" y="379.0" font-size="23" text-anchor="start" font-weight="normal" fill="#44546A" textLength="43.2" lengthAdjust="spacingAndGlyphs" >0.05</text>
<text x="131.7" y="390.8" font-size="23" text-anchor="start" font-weight="normal" fill="#44546A" textLength="43.2" lengthAdjust="spacingAndGlyphs" opacity="0.62">0.15</text>
<text x="185.8" y="402.0" font-size="23" text-anchor="start" font-weight="normal" fill="#44546A" textLength="43.2" lengthAdjust="spacingAndGlyphs" opacity="0.6">0.25</text>
<text x="240.0" y="413.0" font-size="23" text-anchor="start" font-weight="normal" fill="#44546A" textLength="43.2" lengthAdjust="spacingAndGlyphs" opacity="0.6">0.35</text>
<text x="295.0" y="423.8" font-size="23" text-anchor="start" font-weight="normal" fill="#44546A" textLength="43.2" lengthAdjust="spacingAndGlyphs" opacity="0.75">0.45</text>
<text x="351.0" y="436.0" font-size="23" text-anchor="start" font-weight="normal" fill="#44546A" textLength="43.2" lengthAdjust="spacingAndGlyphs" >0.55</text>
<text x="408.8" y="448.0" font-size="23" text-anchor="start" font-weight="normal" fill="#44546A" textLength="43.2" lengthAdjust="spacingAndGlyphs" >0.65</text>
<text x="467.5" y="460.0" font-size="23" text-anchor="start" font-weight="normal" fill="#44546A" textLength="43.2" lengthAdjust="spacingAndGlyphs" >0.75</text>
<text x="527.5" y="473.0" font-size="23" text-anchor="start" font-weight="normal" fill="#44546A" textLength="43.2" lengthAdjust="spacingAndGlyphs" >0.85</text>
<text x="588.2" y="485.5" font-size="23" text-anchor="start" font-weight="normal" fill="#44546A" textLength="43.2" lengthAdjust="spacingAndGlyphs" >0.95</text><text x="642.2" y="448.6" font-size="23" text-anchor="start" font-weight="normal" fill="#44546A" textLength="43.2" lengthAdjust="spacingAndGlyphs" >0.05</text>
<text x="705.3" y="405.9" font-size="23" text-anchor="start" font-weight="normal" fill="#44546A" textLength="43.2" lengthAdjust="spacingAndGlyphs" >0.25</text>
<text x="764.5" y="365.9" font-size="23" text-anchor="start" font-weight="normal" fill="#44546A" textLength="43.2" lengthAdjust="spacingAndGlyphs" >0.45</text>
<text x="820.5" y="328.5" font-size="23" text-anchor="start" font-weight="normal" fill="#44546A" textLength="43.2" lengthAdjust="spacingAndGlyphs" >0.65</text>
<text x="873.6" y="294.0" font-size="23" text-anchor="start" font-weight="normal" fill="#44546A" textLength="43.2" lengthAdjust="spacingAndGlyphs" >0.85</text></g>
<g id='c1-ylab'><text x="70.3" y="189.7" font-size="23" text-anchor="end" font-weight="normal" fill="#44546A" textLength="69.5" lengthAdjust="spacingAndGlyphs" >0.0600</text>
<text x="72.5" y="240.8" font-size="23" text-anchor="end" font-weight="normal" fill="#44546A" textLength="69.5" lengthAdjust="spacingAndGlyphs" >0.0400</text>
<text x="74.2" y="293.0" font-size="23" text-anchor="end" font-weight="normal" fill="#44546A" textLength="69.5" lengthAdjust="spacingAndGlyphs" >0.0200</text>
<text x="76.3" y="343.3" font-size="23" text-anchor="end" font-weight="normal" fill="#44546A" textLength="69.5" lengthAdjust="spacingAndGlyphs" >0.0000</text>
<text x="78.0" y="394.2" font-size="23" text-anchor="end" font-weight="normal" fill="#44546A" textLength="76.5" lengthAdjust="spacingAndGlyphs" >-0.0200</text>
<text x="80.3" y="444.7" font-size="23" text-anchor="end" font-weight="normal" fill="#44546A" textLength="76.5" lengthAdjust="spacingAndGlyphs" >-0.0400</text>
<text x="82.0" y="494.2" font-size="23" text-anchor="end" font-weight="normal" fill="#44546A" textLength="76.5" lengthAdjust="spacingAndGlyphs" >-0.0600</text>
<text x="84.2" y="543.3" font-size="23" text-anchor="end" font-weight="normal" fill="#44546A" textLength="76.5" lengthAdjust="spacingAndGlyphs" >-0.0800</text></g>
<text x="568.7" y="22.0" font-size="26" text-anchor="middle" font-weight="bold" fill="#000000" textLength="114.0" lengthAdjust="spacingAndGlyphs" >GEOLAND</text>
<text x="359.4" y="682.5" font-size="25.5" text-anchor="middle" font-weight="bold" fill="#44546A" textLength="42.2" lengthAdjust="spacingAndGlyphs" >Tau</text>
<text transform="translate(955,553) rotate(-90)" font-size="25.5" text-anchor="middle" font-weight="bold" fill="#44546A" textLength="65.6" lengthAdjust="spacingAndGlyphs">Theta</text>
<g id='c1-legend'><rect x="1013" y="220.8" width="14.4" height="14.4" fill="#1F3D7A"/><rect x="1013" y="220.8" width="14.4" height="14.4" fill="url(#sw)"/>
<text x="1033.0" y="236.2" font-size="23" text-anchor="start" font-weight="normal" fill="#44546A" textLength="149.0" lengthAdjust="spacingAndGlyphs" >0.0400-0.0600</text>
<rect x="1013" y="268.1" width="14.4" height="14.4" fill="#66A93A"/><rect x="1013" y="268.1" width="14.4" height="14.4" fill="url(#sw)"/>
<text x="1033.0" y="283.5" font-size="23" text-anchor="start" font-weight="normal" fill="#44546A" textLength="149.0" lengthAdjust="spacingAndGlyphs" >0.0200-0.0400</text>
<rect x="1013" y="315.8" width="14.4" height="14.4" fill="#4A98DC"/><rect x="1013" y="315.8" width="14.4" height="14.4" fill="url(#sw)"/>
<text x="1033.0" y="331.2" font-size="23" text-anchor="start" font-weight="normal" fill="#44546A" textLength="149.0" lengthAdjust="spacingAndGlyphs" >0.0000-0.0200</text>
<rect x="1013" y="363.8" width="14.4" height="14.4" fill="#FFC400"/><rect x="1013" y="363.8" width="14.4" height="14.4" fill="url(#sw)"/>
<text x="1033.0" y="379.2" font-size="23" text-anchor="start" font-weight="normal" fill="#44546A" textLength="157.0" lengthAdjust="spacingAndGlyphs" >-0.0200-0.0000</text>
<rect x="1013" y="411.8" width="14.4" height="14.4" fill="#9C9C9C"/><rect x="1013" y="411.8" width="14.4" height="14.4" fill="url(#sw)"/>
<text x="1033.0" y="427.2" font-size="23" text-anchor="start" font-weight="normal" fill="#44546A" textLength="165.0" lengthAdjust="spacingAndGlyphs" >-0.0400--0.0200</text>
<rect x="1013" y="459.5" width="14.4" height="14.4" fill="#E9701E"/><rect x="1013" y="459.5" width="14.4" height="14.4" fill="url(#sw)"/>
<text x="1033.0" y="474.9" font-size="23" text-anchor="start" font-weight="normal" fill="#44546A" textLength="165.0" lengthAdjust="spacingAndGlyphs" >-0.0600--0.0400</text>
<rect x="1013" y="507.5" width="14.4" height="14.4" fill="#3366C4"/><rect x="1013" y="507.5" width="14.4" height="14.4" fill="url(#sw)"/>
<text x="1033.0" y="522.9" font-size="23" text-anchor="start" font-weight="normal" fill="#44546A" textLength="165.0" lengthAdjust="spacingAndGlyphs" >-0.0800--0.0600</text></g>
<g id='c2-walls'><polyline points="100.8,936.7 421.3,797.3 916.7,872.9" fill="none" stroke="#D6DCE5" stroke-width="1.4" stroke-linejoin="round"/>
<polyline points="102.0,978.3 422.1,834.7 915.3,913.1" fill="none" stroke="#D6DCE5" stroke-width="1.4" stroke-linejoin="round"/>
<polyline points="104.7,1019.7 422.4,871.5 913.9,952.5" fill="none" stroke="#D6DCE5" stroke-width="1.4" stroke-linejoin="round"/>
<polyline points="106.3,1060.8 422.7,908.0 912.5,991.3" fill="none" stroke="#D6DCE5" stroke-width="1.4" stroke-linejoin="round"/>
<polyline points="107.5,1101.7 423.2,944.5 910.5,1029.0" fill="none" stroke="#D6DCE5" stroke-width="1.4" stroke-linejoin="round"/>
<polyline points="109.7,1142.0 423.6,981.0 908.2,1067.3" fill="none" stroke="#D6DCE5" stroke-width="1.4" stroke-linejoin="round"/>
<polyline points="111.7,1182.0 424.0,1017.3 907.0,1105.5" fill="none" stroke="#D6DCE5" stroke-width="1.4" stroke-linejoin="round"/>
<polyline points="113.3,1221.7 424.4,1053.5 905.7,1144.4" fill="none" stroke="#D6DCE5" stroke-width="1.4" stroke-linejoin="round"/>
<polyline points="115.8,1260.8 424.8,1089.5 904.6,1180.3" fill="none" stroke="#D6DCE5" stroke-width="1.4" stroke-linejoin="round"/>
<polyline points="115.8,1260.8 641.7,1385 904.6,1180.3" fill="none" stroke="#D6DCE5" stroke-width="1.4" stroke-linejoin="round"/>
<line x1="641.7" y1="1385.0" x2="647.7" y2="1385.0" stroke="#D6DCE5" stroke-width="1.4" />
<line x1="675.0" y1="1359.3" x2="681.0" y2="1359.3" stroke="#D6DCE5" stroke-width="1.4" />
<line x1="708.3" y1="1334.3" x2="714.3" y2="1334.3" stroke="#D6DCE5" stroke-width="1.4" />
<line x1="739.0" y1="1310.0" x2="745.0" y2="1310.0" stroke="#D6DCE5" stroke-width="1.4" />
<line x1="769.0" y1="1286.7" x2="775.0" y2="1286.7" stroke="#D6DCE5" stroke-width="1.4" />
<line x1="797.3" y1="1264.3" x2="803.3" y2="1264.3" stroke="#D6DCE5" stroke-width="1.4" />
<line x1="825.0" y1="1242.7" x2="831.0" y2="1242.7" stroke="#D6DCE5" stroke-width="1.4" />
<line x1="853.3" y1="1221.0" x2="859.3" y2="1221.0" stroke="#D6DCE5" stroke-width="1.4" />
<line x1="880.0" y1="1200.0" x2="886.0" y2="1200.0" stroke="#D6DCE5" stroke-width="1.4" />
<line x1="905.0" y1="1180.0" x2="911.0" y2="1180.0" stroke="#D6DCE5" stroke-width="1.4" />
<line x1="910.5" y1="1029.0" x2="916.5" y2="1029.0" stroke="#D6DCE5" stroke-width="1.4" /></g>
<g id='c2-surface'><polygon points="110.0,1129.0 154.0,1110.0 186.0,1084.0 223.0,1053.6 257.0,1066.4 240.0,1084.0 228.0,1091.0 191.0,1108.0 158.0,1119.0 118.0,1137.0" fill="#FFC30F" stroke="#FFC30F" stroke-width="0.7" stroke-linejoin="round"/>
<polygon points="223.0,1053.6 257.0,1066.4 240.0,1084.0 228.0,1091.0" fill="#F8B800" stroke="#F8B800" stroke-width="0.7" stroke-linejoin="round"/>
<polygon points="293.0,1020.0 298.0,1053.0 263.0,1063.0 275.0,1042.0" fill="#FFE020" stroke="#FFE020" stroke-width="0.7" stroke-linejoin="round"/>
<polygon points="293.0,1020.0 319.0,1045.0 298.0,1053.0" fill="#F5BC10" stroke="#F5BC10" stroke-width="0.7" stroke-linejoin="round"/>
<polygon points="118.0,1137.0 158.0,1119.0 191.0,1108.0 228.0,1091.0 240.0,1084.0 258.0,1067.0 263.0,1063.0 298.0,1053.0 319.0,1045.0 340.0,1068.8 340.0,1084.0 304.0,1098.0 280.0,1106.0 254.0,1131.0 215.0,1154.0 180.0,1172.0 166.0,1180.0 134.0,1180.0" fill="#979797" stroke="#979797" stroke-width="0.7" stroke-linejoin="round"/>
<polygon points="258.0,1067.0 263.0,1063.0 298.0,1053.0 304.0,1098.0 280.0,1106.0" fill="#A8A8A8" stroke="#A8A8A8" stroke-width="0.7" stroke-linejoin="round"/>
<polygon points="228.0,1091.0 240.0,1084.0 258.0,1067.0 280.0,1106.0 254.0,1131.0" fill="#8A8A8A" stroke="#8A8A8A" stroke-width="0.7" stroke-linejoin="round"/>
<polygon points="166.0,1180.0 180.0,1172.0 215.0,1154.0 254.0,1131.0 280.0,1106.0 304.0,1098.0 340.0,1084.0 340.0,1089.0 327.0,1108.0 292.0,1132.0 270.0,1140.0 258.0,1146.0 228.0,1180.0" fill="#ED6E14" stroke="#ED6E14" stroke-width="0.7" stroke-linejoin="round"/>
<polygon points="280.0,1106.0 304.0,1098.0 327.0,1108.0 292.0,1132.0" fill="#FF8420" stroke="#FF8420" stroke-width="0.7" stroke-linejoin="round"/>
<polygon points="292.0,1132.0 327.0,1108.0 333.0,1116.0 332.0,1130.0 300.0,1136.0 270.0,1140.0" fill="#6E6E6E" stroke="#6E6E6E" stroke-width="0.7" stroke-linejoin="round"/>
<polygon points="258.0,1146.0 270.0,1140.0 300.0,1136.0 308.0,1160.0 302.0,1180.0 228.0,1180.0" fill="#6A6A6A" stroke="#6A6A6A" stroke-width="0.7" stroke-linejoin="round"/>
<polygon points="258.0,1146.0 258.8,1146.4 229.2,1180.0 228.0,1180.0" fill="#3A3328" stroke="#3A3328" stroke-width="0.7" stroke-linejoin="round"/>
<polygon points="340.0,1089.0 340.0,1090.8 327.6,1108.6 327.0,1108.0" fill="#3A3328" stroke="#3A3328" stroke-width="0.7" stroke-linejoin="round"/>
<polygon points="260.0,1146.0 270.0,1140.0 300.0,1136.0 332.0,1130.0 340.0,1132.0 340.0,1148.0 308.0,1160.0" fill="#C49A00" stroke="#C49A00" stroke-width="0.7" stroke-linejoin="round"/>
<polygon points="308.0,1160.0 340.0,1148.0 340.0,1180.0 302.0,1180.0" fill="#A88000" stroke="#A88000" stroke-width="0.7" stroke-linejoin="round"/>
<polygon points="327.0,1108.0 340.0,1090.0 340.0,1132.0 332.0,1130.0 333.0,1116.0" fill="#D0A000" stroke="#D0A000" stroke-width="0.7" stroke-linejoin="round"/>
<polygon points="117.0,1137.0 126.0,1129.0 256.0,1129.0 254.0,1131.0 215.0,1154.0 180.0,1172.0 166.0,1180.0 140.0,1188.0" fill="#9A9A9A" stroke="#9A9A9A" stroke-width="0.7" stroke-linejoin="round"/>
<polygon points="140.0,1188.0 166.0,1180.0 180.0,1172.0 215.0,1154.0 254.0,1131.0 256.0,1129.0 292.0,1129.0 258.0,1146.0 228.0,1180.0 204.0,1208.0 193.0,1221.0 161.0,1232.0" fill="#E86C18" stroke="#E86C18" stroke-width="0.7" stroke-linejoin="round"/>
<polygon points="180.0,1172.0 215.0,1154.0 204.0,1208.0" fill="#F47820" stroke="#F47820" stroke-width="0.7" stroke-linejoin="round"/>
<polygon points="161.0,1232.0 193.0,1221.0 169.0,1248.4" fill="#2E62C0" stroke="#2E62C0" stroke-width="0.7" stroke-linejoin="round"/>
<polygon points="258.0,1146.0 259.0,1146.6 193.8,1221.8 169.6,1248.8 169.0,1248.4 193.0,1221.0" fill="#3A3328" stroke="#3A3328" stroke-width="0.7" stroke-linejoin="round"/>
<polygon points="204.0,1208.0 222.0,1190.0 240.0,1190.0 209.0,1207.6" fill="#6E3408" stroke="#6E3408" stroke-width="0.7" stroke-linejoin="round"/>
<polygon points="258.0,1146.4 308.0,1160.0 306.0,1184.0 278.0,1187.0" fill="#787878" stroke="#787878" stroke-width="0.7" stroke-linejoin="round"/>
<polygon points="258.0,1146.4 278.0,1187.0 222.0,1190.4 228.0,1180.0" fill="#626262" stroke="#626262" stroke-width="0.7" stroke-linejoin="round"/>
<polygon points="260.0,1146.0 270.0,1140.0 300.0,1136.0 332.0,1130.0 340.0,1132.0 340.0,1148.0 308.0,1160.0" fill="#C49A00" stroke="#C49A00" stroke-width="0.7" stroke-linejoin="round"/>
<polygon points="308.0,1160.0 340.0,1148.0 340.0,1189.0 308.0,1184.0" fill="#A88000" stroke="#A88000" stroke-width="0.7" stroke-linejoin="round"/>
<polygon points="448.0,1070.0 504.0,1078.0 486.0,1098.0 460.0,1088.0" fill="#E0B000" stroke="#E0B000" stroke-width="0.7" stroke-linejoin="round"/>
<polygon points="299.0,1024.0 318.0,1044.0 300.0,1049.0 299.0,1049.0" fill="#FFC810" stroke="#FFC810" stroke-width="0.7" stroke-linejoin="round"/>
<polygon points="299.0,1049.0 318.0,1044.0 348.0,1078.0 340.0,1083.0 300.0,1098.0 299.0,1098.0" fill="#A0A0A0" stroke="#A0A0A0" stroke-width="0.7" stroke-linejoin="round"/>
<polygon points="299.0,1098.0 340.0,1083.0 334.0,1100.0 299.0,1100.0" fill="#FF8418" stroke="#FF8418" stroke-width="0.7" stroke-linejoin="round"/>
<polygon points="392.0,951.0 402.0,955.0 393.0,962.0 369.0,971.0" fill="#4AA0F0" stroke="#4AA0F0" stroke-width="0.7" stroke-linejoin="round"/>
<polygon points="360.0,978.0 369.0,971.0 393.0,962.0 396.0,964.0 400.0,1004.0 366.0,1021.0" fill="#FFE810" stroke="#FFE810" stroke-width="0.7" stroke-linejoin="round"/>
<polygon points="393.0,962.0 402.0,955.0 422.0,961.0 432.0,982.0 420.0,994.0 400.0,1004.0 396.0,964.0" fill="#FFE000" stroke="#FFE000" stroke-width="0.7" stroke-linejoin="round"/>
<polygon points="360.0,978.0 366.0,1021.0 353.0,1017.0" fill="#A58400" stroke="#A58400" stroke-width="0.7" stroke-linejoin="round"/>
<polygon points="353.0,1017.0 366.0,1021.0 371.0,1048.0 364.0,1060.0 346.0,1058.0" fill="#4A4A4A" stroke="#4A4A4A" stroke-width="0.7" stroke-linejoin="round"/>
<polygon points="346.0,1058.0 364.0,1060.0 350.0,1073.0 343.6,1068.0" fill="#8A3A0A" stroke="#8A3A0A" stroke-width="0.7" stroke-linejoin="round"/>
<polygon points="366.0,1021.0 400.0,1004.0 420.0,994.0 432.0,982.0 449.0,1021.0 428.0,1038.0 394.0,1056.0 386.0,1055.0 371.0,1048.0" fill="#ABABAB" stroke="#ABABAB" stroke-width="0.7" stroke-linejoin="round"/>
<polygon points="394.0,1056.0 428.0,1038.0 449.0,1021.0 457.0,1037.0 420.0,1064.0" fill="#FF8418" stroke="#FF8418" stroke-width="0.7" stroke-linejoin="round"/>
<polygon points="420.0,1064.0 457.0,1037.0 464.0,1056.0 444.0,1070.0 436.0,1068.0" fill="#8A8A8A" stroke="#8A8A8A" stroke-width="0.7" stroke-linejoin="round"/>
<polygon points="457.0,1037.0 466.0,1032.0 540.0,1005.0 540.0,1058.0 520.0,1064.0 456.0,1074.0 444.0,1070.0 464.0,1056.0" fill="#E8BA00" stroke="#E8BA00" stroke-width="0.7" stroke-linejoin="round"/>
<polygon points="444.0,1070.0 486.0,1056.0 540.0,1028.0 540.0,1058.0 520.0,1064.0 456.0,1074.0" fill="#D9AC00" stroke="#D9AC00" stroke-width="0.7" stroke-linejoin="round"/>
<polygon points="365.0,1048.4 386.0,1055.0 394.0,1056.0 420.0,1064.0 436.0,1068.0 444.0,1070.0 456.0,1074.0 480.0,1100.0 334.0,1100.0 344.0,1080.0" fill="#FFCC00" stroke="#FFCC00" stroke-width="0.7" stroke-linejoin="round"/>
<polygon points="365.0,1048.4 380.0,1100.0 334.0,1100.0" fill="#D9A800" stroke="#D9A800" stroke-width="0.7" stroke-linejoin="round"/>
<polygon points="454.0,1075.0 480.0,1094.0 476.0,1100.0 420.0,1100.0" fill="#E0B000" stroke="#E0B000" stroke-width="0.7" stroke-linejoin="round"/>
<polygon points="365.0,1048.4 333.6,1100.0 332.6,1100.0" fill="#5A4A10" stroke="#5A4A10" stroke-width="0.7" stroke-linejoin="round"/>
<polygon points="456.0,1074.0 520.0,1064.0 540.0,1058.0 540.0,1068.0 500.0,1084.0 480.0,1094.0" fill="#FFC800" stroke="#FFC800" stroke-width="0.7" stroke-linejoin="round"/>
<polygon points="467.0,1081.0 504.0,1080.0 484.0,1091.0" fill="#A0A0A0" stroke="#A0A0A0" stroke-width="0.7" stroke-linejoin="round"/>
<polygon points="480.0,1094.0 500.0,1084.0 540.0,1068.0 540.0,1080.0 500.0,1100.0 476.0,1100.0" fill="#A08000" stroke="#A08000" stroke-width="0.7" stroke-linejoin="round"/>
<polygon points="512.0,1100.0 540.0,1080.0 540.0,1100.0" fill="#3F88CC" stroke="#3F88CC" stroke-width="0.7" stroke-linejoin="round"/>
<polygon points="299.0,1079.0 343.0,1079.0 341.0,1084.0 300.0,1100.0 299.0,1100.0" fill="#9F9F9F" stroke="#9F9F9F" stroke-width="0.7" stroke-linejoin="round"/>
<polygon points="299.0,1100.0 341.0,1084.0 333.0,1102.0 326.0,1110.0 300.0,1127.0 299.0,1127.0" fill="#FF7A18" stroke="#FF7A18" stroke-width="0.7" stroke-linejoin="round"/>
<polygon points="299.0,1127.0 326.0,1110.0 333.0,1133.0 300.0,1137.0 299.0,1137.0" fill="#7A7A7A" stroke="#7A7A7A" stroke-width="0.7" stroke-linejoin="round"/>
<polygon points="343.0,1079.0 380.0,1079.0 386.0,1113.0 352.0,1134.0 333.0,1133.0 326.0,1110.0 341.0,1084.0" fill="#C89E00" stroke="#C89E00" stroke-width="0.7" stroke-linejoin="round"/>
<polygon points="326.0,1110.0 386.0,1113.0 352.0,1134.0 333.0,1133.0" fill="#D2A600" stroke="#D2A600" stroke-width="0.7" stroke-linejoin="round"/>
<polygon points="341.0,1084.0 341.8,1084.2 326.8,1110.2 326.0,1110.0" fill="#3A3328" stroke="#3A3328" stroke-width="0.7" stroke-linejoin="round"/>
<polygon points="377.0,1079.0 460.0,1079.0 420.0,1096.0 386.0,1113.0" fill="#FFD000" stroke="#FFD000" stroke-width="0.7" stroke-linejoin="round"/>
<polygon points="386.0,1113.0 420.0,1096.0 460.0,1079.0 482.0,1092.0 452.0,1103.0 416.0,1121.0 384.0,1136.0 352.0,1134.0" fill="#B89200" stroke="#B89200" stroke-width="0.7" stroke-linejoin="round"/>
<polygon points="466.0,1079.0 510.0,1079.0 482.0,1092.0" fill="#8F8F8F" stroke="#8F8F8F" stroke-width="0.7" stroke-linejoin="round"/>
<polygon points="482.0,1092.0 510.0,1079.0 530.0,1079.0 500.0,1098.0 464.0,1115.0 441.0,1127.0 438.0,1138.0 412.0,1140.0 396.0,1140.0 384.0,1146.0 370.0,1157.0 352.0,1134.0 384.0,1136.0 416.0,1121.0 452.0,1103.0" fill="#A88600" stroke="#A88600" stroke-width="0.7" stroke-linejoin="round"/>
<polygon points="299.0,1137.0 333.0,1133.0 352.0,1134.0 320.0,1152.0 300.0,1160.0" fill="#D4A800" stroke="#D4A800" stroke-width="0.7" stroke-linejoin="round"/>
<polygon points="300.0,1160.0 320.0,1152.0 352.0,1134.0 370.0,1157.0 358.0,1166.0 346.0,1178.0 308.0,1184.0 307.0,1166.0 300.0,1164.0" fill="#A88400" stroke="#A88400" stroke-width="0.7" stroke-linejoin="round"/>
<polygon points="358.0,1166.0 370.0,1157.0 384.0,1147.0 396.0,1140.4 400.0,1144.4 386.0,1148.4" fill="#3A3210" stroke="#3A3210" stroke-width="0.7" stroke-linejoin="round"/>
<polygon points="299.0,1164.0 307.0,1166.0 308.0,1184.0 300.0,1186.0 299.0,1186.0" fill="#6A6A6A" stroke="#6A6A6A" stroke-width="0.7" stroke-linejoin="round"/>
<polygon points="396.0,1140.4 412.0,1142.0 466.0,1148.0 492.0,1153.0 443.0,1171.0 400.0,1144.4" fill="#3A82C8" stroke="#3A82C8" stroke-width="0.7" stroke-linejoin="round"/>
<polygon points="438.0,1138.0 466.0,1148.0 420.0,1142.0" fill="#C8A000" stroke="#C8A000" stroke-width="0.7" stroke-linejoin="round"/>
<polygon points="441.0,1127.0 464.0,1115.0 470.0,1119.0 488.0,1122.0 486.0,1126.0 492.0,1153.0 466.0,1148.0 438.0,1138.0" fill="#3272AC" stroke="#3272AC" stroke-width="0.7" stroke-linejoin="round"/>
<polygon points="464.0,1115.0 500.0,1098.0 530.0,1079.0 540.0,1079.0 516.0,1099.0 488.0,1122.0 470.0,1119.0" fill="#3F8AD2" stroke="#3F8AD2" stroke-width="0.7" stroke-linejoin="round"/>
<polygon points="488.0,1122.0 516.0,1099.0 540.0,1080.0 540.0,1146.0 492.0,1153.0 486.0,1126.0" fill="#F2B600" stroke="#F2B600" stroke-width="0.7" stroke-linejoin="round"/>
<polygon points="443.0,1171.0 492.0,1153.0 540.0,1146.0 540.0,1200.0 516.0,1206.0 480.0,1189.0" fill="#EBB000" stroke="#EBB000" stroke-width="0.7" stroke-linejoin="round"/>
<polygon points="516.0,1206.0 540.0,1198.0 540.0,1208.4" fill="#B89000" stroke="#B89000" stroke-width="0.7" stroke-linejoin="round"/>
<polygon points="519.0,1012.0 547.0,1003.0 629.0,1004.4 650.0,1000.0 684.0,993.0 712.0,1016.0 736.0,1017.0 760.0,1023.0 760.0,1140.0 519.0,1140.0" fill="#FFC800" stroke="#FFC800" stroke-width="0.7" stroke-linejoin="round"/>
<polygon points="547.0,1003.0 629.0,1004.0 610.0,1018.0 571.0,1034.0" fill="#FFD800" stroke="#FFD800" stroke-width="0.7" stroke-linejoin="round"/>
<polygon points="519.0,1012.0 547.0,1003.0 571.0,1034.0 520.0,1040.0 519.0,1040.0" fill="#D9B000" stroke="#D9B000" stroke-width="0.7" stroke-linejoin="round"/>
<polygon points="519.0,1040.0 571.0,1034.0 550.0,1054.0 520.0,1058.0 519.0,1058.0" fill="#C8A000" stroke="#C8A000" stroke-width="0.7" stroke-linejoin="round"/>
<polygon points="571.0,1034.0 610.0,1018.0 629.0,1004.0 650.0,1000.0 676.0,996.0 652.0,1004.0 636.0,1011.0 632.0,1020.0 614.0,1032.0 586.0,1042.0 560.0,1053.0 542.0,1060.0 532.0,1070.0 520.0,1084.0 519.0,1084.0 519.0,1076.0 536.0,1058.0 550.0,1054.0" fill="#B89400" stroke="#B89400" stroke-width="0.7" stroke-linejoin="round"/>
<polygon points="636.0,1011.0 652.0,1004.0 676.0,996.0 711.0,1017.0 633.0,1021.0" fill="#4595E0" stroke="#4595E0" stroke-width="0.7" stroke-linejoin="round"/>
<polygon points="614.0,1032.0 611.0,1044.0 619.0,1056.0 590.0,1064.0 576.0,1072.0 538.0,1080.0 520.0,1096.0 519.0,1096.0 519.0,1084.0 532.0,1070.0 542.0,1060.0 560.0,1053.0 586.0,1042.0" fill="#4090DA" stroke="#4090DA" stroke-width="0.7" stroke-linejoin="round"/>
<polygon points="614.0,1032.0 586.0,1042.0 560.0,1053.0 542.0,1060.0 532.0,1070.0 570.0,1060.0 611.0,1044.0" fill="#3C84CA" stroke="#3C84CA" stroke-width="0.7" stroke-linejoin="round"/>
<polygon points="677.0,996.0 684.0,993.0 737.0,1017.6 711.0,1017.0" fill="#FFD800" stroke="#FFD800" stroke-width="0.7" stroke-linejoin="round"/>
<polygon points="633.0,1021.0 711.0,1017.0 684.0,1046.0 652.0,1057.0 619.0,1056.0 611.0,1044.0 614.0,1032.0 632.0,1020.0" fill="#FFCC00" stroke="#FFCC00" stroke-width="0.7" stroke-linejoin="round"/>
<polygon points="711.0,1017.0 737.0,1017.6 760.0,1023.0 760.0,1040.0 684.0,1046.0" fill="#F5C400" stroke="#F5C400" stroke-width="0.7" stroke-linejoin="round"/>
<polygon points="684.0,1046.0 760.0,1040.0 760.0,1066.0 740.0,1068.0 652.0,1057.0" fill="#FFCA00" stroke="#FFCA00" stroke-width="0.7" stroke-linejoin="round"/>
<polygon points="740.0,1068.0 760.0,1066.0 760.0,1092.0 742.0,1108.0 708.0,1116.0 668.0,1126.0 648.0,1134.0 632.0,1140.0 624.0,1140.0 648.0,1128.0 680.0,1112.0 706.0,1084.0" fill="#C8A000" stroke="#C8A000" stroke-width="0.7" stroke-linejoin="round"/>
<polygon points="680.0,1112.0 710.0,1102.0 708.0,1116.0 668.0,1126.0 648.0,1134.0" fill="#A88A00" stroke="#A88A00" stroke-width="0.7" stroke-linejoin="round"/>
<polygon points="742.0,1108.0 760.0,1092.0 760.0,1134.0 750.0,1140.0 632.0,1140.0 648.0,1134.0 668.0,1126.0 708.0,1116.0" fill="#FFD400" stroke="#FFD400" stroke-width="0.7" stroke-linejoin="round"/>
<polygon points="519.0,1096.0 538.0,1080.0 576.0,1072.0 590.0,1064.0 619.0,1056.0 652.0,1057.0 590.0,1106.0 520.0,1100.0 519.0,1100.0" fill="#FFC400" stroke="#FFC400" stroke-width="0.7" stroke-linejoin="round"/>
<polygon points="519.0,1100.0 590.0,1106.0 610.0,1140.0 519.0,1140.0" fill="#F5BC00" stroke="#F5BC00" stroke-width="0.7" stroke-linejoin="round"/>
<polygon points="590.0,1106.0 652.0,1057.0 706.0,1084.0 680.0,1112.0 648.0,1128.0 624.0,1140.0 610.0,1140.0" fill="#FFC600" stroke="#FFC600" stroke-width="0.7" stroke-linejoin="round"/>
<polygon points="699.0,1003.0 736.0,1018.0 784.0,1026.0 852.0,1023.6 880.0,1062.0 856.0,1080.0 818.0,1099.0 816.0,1109.0 766.0,1138.0 748.0,1160.0 699.0,1160.0" fill="#FFCC00" stroke="#FFCC00" stroke-width="0.7" stroke-linejoin="round"/>
<polygon points="699.0,1003.0 736.0,1018.0 784.0,1026.0 769.0,1029.6 747.0,1058.0 700.0,1040.0 699.0,1040.0" fill="#F5C800" stroke="#F5C800" stroke-width="0.7" stroke-linejoin="round"/>
<polygon points="769.0,1029.6 852.0,1023.6 824.0,1052.0 797.0,1075.6" fill="#FFCF00" stroke="#FFCF00" stroke-width="0.7" stroke-linejoin="round"/>
<polygon points="769.0,1029.6 797.0,1075.6 772.0,1078.0 740.0,1069.0 747.0,1058.0" fill="#E8BE00" stroke="#E8BE00" stroke-width="0.7" stroke-linejoin="round"/>
<polygon points="699.0,1040.0 747.0,1058.0 740.0,1069.0 700.0,1082.0 699.0,1082.0" fill="#ECC200" stroke="#ECC200" stroke-width="0.7" stroke-linejoin="round"/>
<polygon points="852.0,1023.6 880.0,1062.0 856.0,1080.0 818.0,1099.0 816.0,1109.0 766.0,1138.0 748.0,1160.0 720.0,1160.0 742.0,1108.0 772.0,1078.0 797.0,1075.6 824.0,1052.0" fill="#FFE800" stroke="#FFE800" stroke-width="0.7" stroke-linejoin="round"/>
<polygon points="699.0,1082.0 740.0,1069.0 771.0,1077.0 743.0,1107.0 700.0,1120.0 699.0,1120.0" fill="#C4A000" stroke="#C4A000" stroke-width="0.7" stroke-linejoin="round"/>
<polygon points="699.0,1094.0 758.0,1079.0 771.0,1077.0 743.0,1107.0 700.0,1120.0 699.0,1120.0" fill="#B08C00" stroke="#B08C00" stroke-width="0.7" stroke-linejoin="round"/>
<polygon points="699.0,1120.0 743.0,1107.0 720.0,1160.0 699.0,1160.0" fill="#FFD400" stroke="#FFD400" stroke-width="0.7" stroke-linejoin="round"/>
<polygon points="699.0,1005.6 712.0,1015.0 700.0,1017.0 699.0,1017.0" fill="#3F90E0" stroke="#3F90E0" stroke-width="0.7" stroke-linejoin="round"/>
<polygon points="880.0,1062.0 906.0,1100.0 860.0,1133.0 848.0,1149.0 838.0,1160.0 748.0,1160.0 766.0,1138.0 816.0,1109.0 818.0,1099.0 856.0,1080.0" fill="#ACACAC" stroke="#ACACAC" stroke-width="0.7" stroke-linejoin="round"/>
<polygon points="856.0,1080.0 880.0,1062.0 906.0,1100.0 876.0,1104.0" fill="#B6B6B6" stroke="#B6B6B6" stroke-width="0.7" stroke-linejoin="round"/>
<polygon points="818.0,1099.0 856.0,1080.0 876.0,1104.0 840.0,1128.0" fill="#A4A4A4" stroke="#A4A4A4" stroke-width="0.7" stroke-linejoin="round"/>
<polygon points="830.0,1160.0 843.0,1153.0 838.0,1160.0" fill="#FF8418" stroke="#FF8418" stroke-width="0.7" stroke-linejoin="round"/>
<polygon points="519.0,1119.0 760.0,1119.0 760.0,1146.0 728.0,1174.0 708.0,1184.0 688.0,1198.0 666.0,1214.0 644.0,1226.0 611.0,1251.0 580.0,1208.0 520.0,1206.0 519.0,1206.0" fill="#FFC810" stroke="#FFC810" stroke-width="0.7" stroke-linejoin="round"/>
<polygon points="519.0,1119.0 672.0,1119.0 648.0,1134.0 586.0,1159.0 520.0,1170.0 519.0,1170.0" fill="#E6B000" stroke="#E6B000" stroke-width="0.7" stroke-linejoin="round"/>
<polygon points="519.0,1119.0 604.0,1119.0 560.0,1136.0 520.0,1144.0 519.0,1144.0" fill="#F0B800" stroke="#F0B800" stroke-width="0.7" stroke-linejoin="round"/>
<polygon points="586.0,1159.0 616.0,1146.0 648.0,1134.4 672.0,1119.0 712.0,1119.0 686.0,1140.0 648.0,1174.0 614.0,1188.0" fill="#EDB800" stroke="#EDB800" stroke-width="0.7" stroke-linejoin="round"/>
<polygon points="586.0,1159.0 616.0,1145.4 648.0,1133.0 648.0,1140.0 600.0,1158.0" fill="#AE8E00" stroke="#AE8E00" stroke-width="0.7" stroke-linejoin="round"/>
<polygon points="519.0,1170.0 586.0,1159.0 614.0,1188.0 604.0,1198.0 580.0,1208.0 520.0,1206.0 519.0,1206.0" fill="#C89C00" stroke="#C89C00" stroke-width="0.7" stroke-linejoin="round"/>
<polygon points="550.0,1186.0 586.0,1159.0 614.0,1188.0 604.0,1198.0 580.0,1208.0 544.0,1207.0" fill="#B48C00" stroke="#B48C00" stroke-width="0.7" stroke-linejoin="round"/>
<polygon points="712.0,1119.0 760.0,1119.0 760.0,1146.0 728.0,1174.0 720.0,1160.0 732.0,1136.0" fill="#FFD818" stroke="#FFD818" stroke-width="0.7" stroke-linejoin="round"/>
<polygon points="611.0,1251.0 644.0,1226.0 666.0,1214.0 688.0,1198.0 708.0,1184.0 728.0,1174.0 760.0,1146.0 760.0,1204.0 740.0,1220.0 708.0,1240.0 680.0,1268.0 664.0,1280.0 632.0,1280.0" fill="#9A9A9A" stroke="#9A9A9A" stroke-width="0.7" stroke-linejoin="round"/>
<polygon points="611.0,1251.0 644.0,1226.0 656.0,1260.0 664.0,1280.0 632.0,1280.0" fill="#8C8C8C" stroke="#8C8C8C" stroke-width="0.7" stroke-linejoin="round"/>
<polygon points="708.0,1184.0 728.0,1174.0 760.0,1146.0 760.0,1204.0 740.0,1220.0" fill="#A6A6A6" stroke="#A6A6A6" stroke-width="0.7" stroke-linejoin="round"/>
<polygon points="699.0,1099.0 818.0,1099.0 816.0,1109.0 766.0,1138.0 750.0,1158.0 726.0,1174.0 700.0,1188.0 699.0,1188.0" fill="#FFD400" stroke="#FFD400" stroke-width="0.7" stroke-linejoin="round"/>
<polygon points="740.0,1108.0 818.0,1099.0 816.0,1109.0 766.0,1138.0 750.0,1158.0 726.0,1174.0 712.0,1166.0" fill="#FFE400" stroke="#FFE400" stroke-width="0.7" stroke-linejoin="round"/>
<polygon points="699.0,1099.0 742.0,1099.0 740.0,1108.0 700.0,1120.0 699.0,1120.0" fill="#C4A000" stroke="#C4A000" stroke-width="0.7" stroke-linejoin="round"/>
<polygon points="818.0,1099.0 906.0,1099.0 860.0,1133.0 848.0,1149.0 842.0,1154.0 822.0,1164.0 800.0,1185.0 770.0,1195.0 740.0,1220.0 700.0,1248.0 699.0,1248.0 699.0,1188.0 700.0,1188.0 726.0,1174.0 750.0,1158.0 766.0,1138.0 816.0,1109.0" fill="#ABABAB" stroke="#ABABAB" stroke-width="0.7" stroke-linejoin="round"/>
<polygon points="699.0,1188.0 726.0,1174.0 740.0,1220.0 700.0,1248.0 699.0,1248.0" fill="#9C9C9C" stroke="#9C9C9C" stroke-width="0.7" stroke-linejoin="round"/>
<polygon points="818.0,1099.0 906.0,1099.0 860.0,1133.0 840.0,1120.0" fill="#B4B4B4" stroke="#B4B4B4" stroke-width="0.7" stroke-linejoin="round"/>
<polygon points="800.0,1185.0 822.0,1164.0 842.0,1154.0 832.0,1169.0 826.0,1174.0" fill="#FF8418" stroke="#FF8418" stroke-width="0.7" stroke-linejoin="round"/>
<polygon points="611.0,1251.0 644.0,1226.0 666.0,1214.0 708.0,1239.0 678.0,1271.0 650.0,1288.0 642.0,1293.6" fill="#8E8E8E" stroke="#8E8E8E" stroke-width="0.7" stroke-linejoin="round"/>
<polygon points="487.0,1124.0 500.0,1108.0 520.0,1096.0 540.0,1080.0 576.0,1072.0 590.0,1106.0 524.0,1144.0 493.0,1152.0" fill="#F9BE00" stroke="#F9BE00" stroke-width="0.7" stroke-linejoin="round"/>
<polygon points="493.0,1152.0 524.0,1144.0 590.0,1106.0 586.0,1158.0 548.0,1184.0 520.0,1207.0 443.0,1170.0" fill="#F2B600" stroke="#F2B600" stroke-width="0.7" stroke-linejoin="round"/>
<polygon points="520.0,1207.0 548.0,1184.0 586.0,1158.0 580.0,1208.0" fill="#D9A600" stroke="#D9A600" stroke-width="0.7" stroke-linejoin="round"/>
<polygon points="548.0,1059.0 604.0,1059.0 576.0,1072.0 540.0,1080.0 522.0,1082.0 538.0,1072.0" fill="#4595E0" stroke="#4595E0" stroke-width="0.7" stroke-linejoin="round"/>
<polygon points="538.0,1059.0 548.0,1059.0 538.0,1072.0 522.0,1082.0 500.0,1094.0 466.0,1113.0 440.0,1124.0 480.0,1094.0 506.0,1080.0 532.0,1068.0" fill="#A88600" stroke="#A88600" stroke-width="0.7" stroke-linejoin="round"/>
<polygon points="522.0,1082.0 540.0,1080.0 520.0,1096.0 500.0,1108.0 466.0,1113.0 500.0,1094.0" fill="#3F8AD2" stroke="#3F8AD2" stroke-width="0.7" stroke-linejoin="round"/>
<polygon points="466.0,1113.0 500.0,1108.0 488.0,1124.0 493.0,1152.0 465.0,1147.0 437.0,1137.0 440.0,1124.0" fill="#3272AC" stroke="#3272AC" stroke-width="0.7" stroke-linejoin="round"/>
<polygon points="365.0,1048.4 385.0,1113.0 351.0,1134.0 329.0,1107.0 346.0,1076.0" fill="#D6A600" stroke="#D6A600" stroke-width="0.7" stroke-linejoin="round"/>
<polygon points="365.0,1048.4 396.0,1057.0 452.0,1073.6 385.6,1113.0" fill="#FFCE00" stroke="#FFCE00" stroke-width="0.7" stroke-linejoin="round"/>
<polygon points="329.0,1107.0 351.0,1134.0 333.0,1133.0" fill="#C89E00" stroke="#C89E00" stroke-width="0.7" stroke-linejoin="round"/>
<polygon points="365.0,1048.4 365.6,1048.8 329.4,1107.0 328.6,1106.6" fill="#4A3E18" stroke="#4A3E18" stroke-width="0.7" stroke-linejoin="round"/>
<polygon points="599.0,1059.0 620.0,1056.0 612.0,1044.0 684.0,1046.0 712.0,1080.0 683.0,1114.0 646.0,1132.0 600.0,1148.0 599.0,1148.0" fill="#FFC500" stroke="#FFC500" stroke-width="0.7" stroke-linejoin="round"/>
<polygon points="634.0,1019.0 736.0,1018.0 784.0,1027.0 786.0,1029.0 768.0,1030.0 684.0,1046.0 612.0,1044.0 612.0,1034.0" fill="#F5C600" stroke="#F5C600" stroke-width="0.7" stroke-linejoin="round"/>
<polygon points="599.0,1019.0 633.0,1019.0 614.0,1032.4 599.0,1038.4" fill="#B89400" stroke="#B89400" stroke-width="0.7" stroke-linejoin="round"/>
<polygon points="599.0,1038.4 614.0,1032.4 612.0,1044.0 619.4,1055.6 600.0,1060.0 599.0,1060.0" fill="#4595E0" stroke="#4595E0" stroke-width="0.7" stroke-linejoin="round"/>
<polygon points="684.0,1046.0 768.0,1030.0 741.0,1068.0 712.0,1080.0" fill="#FFD000" stroke="#FFD000" stroke-width="0.7" stroke-linejoin="round"/>
<polygon points="768.0,1030.0 797.0,1075.0 769.0,1076.0 741.0,1068.0" fill="#E6BA00" stroke="#E6BA00" stroke-width="0.7" stroke-linejoin="round"/>
<polygon points="768.0,1030.0 786.0,1029.0 784.0,1027.0 840.0,1023.6 840.0,1044.0 830.0,1046.0 797.0,1075.0" fill="#FFCF00" stroke="#FFCF00" stroke-width="0.7" stroke-linejoin="round"/>
<polygon points="797.0,1075.0 830.0,1046.0 840.0,1044.0 840.0,1088.0 818.0,1099.0 816.0,1108.0 766.0,1138.0 748.0,1158.0 720.0,1180.0 696.0,1180.0 712.0,1116.0 744.0,1106.0 769.0,1076.0" fill="#FFE800" stroke="#FFE800" stroke-width="0.7" stroke-linejoin="round"/>
<polygon points="712.0,1081.0 741.0,1068.0 769.0,1076.0 744.0,1106.0 712.0,1116.0 683.0,1113.0" fill="#C4A000" stroke="#C4A000" stroke-width="0.7" stroke-linejoin="round"/>
<polygon points="683.0,1113.0 712.0,1116.0 648.0,1140.0 600.0,1158.0 599.0,1158.0 599.0,1150.0 646.0,1133.0" fill="#AE8E00" stroke="#AE8E00" stroke-width="0.7" stroke-linejoin="round"/>
<polygon points="599.0,1158.0 648.0,1140.0 712.0,1116.0 708.0,1117.0 681.0,1145.4 648.0,1177.0 645.0,1180.0 599.0,1180.0" fill="#EDB800" stroke="#EDB800" stroke-width="0.7" stroke-linejoin="round"/>
<polygon points="712.0,1116.0 696.0,1180.0 645.0,1180.0 648.0,1177.0 681.0,1145.4 708.0,1117.0" fill="#FFD400" stroke="#FFD400" stroke-width="0.7" stroke-linejoin="round"/>
<polygon points="636.0,1011.0 652.0,1004.0 676.0,996.0 711.0,1017.0 633.0,1021.0" fill="#4595E0" stroke="#4595E0" stroke-width="0.7" stroke-linejoin="round"/>
<polygon points="677.0,996.0 684.0,993.0 737.0,1017.6 711.0,1017.0" fill="#FFD800" stroke="#FFD800" stroke-width="0.7" stroke-linejoin="round"/>
<polygon points="600.0,1063.0 580.0,1070.0 565.0,1076.2 530.0,1082.5 500.0,1110.0 487.5,1125.0 490.0,1140.0 600.0,1140.0" fill="#FFC600" stroke="#FFC600" stroke-width="0.7" stroke-linejoin="round"/>
<polygon points="530.0,1082.5 565.0,1076.2 580.0,1070.0 587.5,1100.0 555.0,1140.0 490.0,1140.0 487.5,1125.0 500.0,1110.0" fill="#F8BE00" stroke="#F8BE00" stroke-width="0.7" stroke-linejoin="round"/>
<polygon points="457.5,1036.2 520.0,1012.5 547.5,1003.2 526.2,1030.0 490.0,1055.5 463.8,1056.2" fill="#E6BA00" stroke="#E6BA00" stroke-width="0.7" stroke-linejoin="round"/>
<polygon points="547.5,1003.2 572.5,1034.5 560.0,1050.0 542.5,1053.8 490.0,1055.5 526.2,1030.0" fill="#CFA800" stroke="#CFA800" stroke-width="0.7" stroke-linejoin="round"/>
<polygon points="547.5,1003.2 630.0,1004.5 613.8,1015.0 572.5,1034.5" fill="#FFD800" stroke="#FFD800" stroke-width="0.7" stroke-linejoin="round"/>
<polygon points="445.0,1070.0 463.8,1056.2 490.0,1055.5 542.5,1053.8 560.0,1050.0 540.0,1058.8 455.0,1075.0" fill="#D9AE00" stroke="#D9AE00" stroke-width="0.7" stroke-linejoin="round"/>
<polygon points="572.5,1034.5 613.8,1015.0 630.0,1004.5 635.0,1013.8 632.5,1020.0 615.0,1032.0 570.0,1050.0 546.2,1061.2 540.0,1075.0 520.0,1085.0 505.0,1083.8 532.5,1070.0 540.0,1057.5 560.0,1050.0" fill="#B08E00" stroke="#B08E00" stroke-width="0.7" stroke-linejoin="round"/>
<polygon points="635.0,1013.8 651.2,1005.5 680.0,998.0 680.0,1020.0 633.8,1020.5" fill="#4595E0" stroke="#4595E0" stroke-width="0.7" stroke-linejoin="round"/>
<polygon points="615.0,1032.0 612.5,1045.0 620.0,1056.2 580.0,1070.0 565.0,1076.2 530.0,1082.5 520.0,1085.0 540.0,1075.0 546.2,1061.2 570.0,1050.0" fill="#4090DA" stroke="#4090DA" stroke-width="0.7" stroke-linejoin="round"/>
<polygon points="440.0,1123.8 462.5,1115.0 487.5,1100.0 520.0,1085.0 530.0,1082.5 500.0,1110.0 487.5,1125.0 490.0,1140.0 437.5,1140.0" fill="#3C84CA" stroke="#3C84CA" stroke-width="0.7" stroke-linejoin="round"/>
<polygon points="440.0,1123.8 467.5,1112.5 487.5,1140.0 437.5,1140.0" fill="#3272AC" stroke="#3272AC" stroke-width="0.7" stroke-linejoin="round"/></g>
<g id='c2-axes'><polyline points="108.3,1102.5 641.7,1215 910.5,1029" fill="none" stroke="#E2E4E8" stroke-width="1.8" stroke-linejoin="round"/>
<line x1="108.3" y1="1102.5" x2="108.3" y2="1108.5" stroke="#E2E4E8" stroke-width="1.6" />
<line x1="162.7" y1="1114.0" x2="162.7" y2="1120.0" stroke="#E2E4E8" stroke-width="1.6" />
<line x1="218.3" y1="1125.7" x2="218.3" y2="1131.7" stroke="#E2E4E8" stroke-width="1.6" />
<line x1="275.0" y1="1137.7" x2="275.0" y2="1143.7" stroke="#E2E4E8" stroke-width="1.6" />
<line x1="332.7" y1="1149.8" x2="332.7" y2="1155.8" stroke="#E2E4E8" stroke-width="1.6" />
<line x1="392.7" y1="1162.5" x2="392.7" y2="1168.5" stroke="#E2E4E8" stroke-width="1.6" />
<line x1="453.3" y1="1175.3" x2="453.3" y2="1181.3" stroke="#E2E4E8" stroke-width="1.6" />
<line x1="514.9" y1="1188.3" x2="514.9" y2="1194.3" stroke="#E2E4E8" stroke-width="1.6" />
<line x1="577.6" y1="1201.5" x2="577.6" y2="1207.5" stroke="#E2E4E8" stroke-width="1.6" />
<line x1="641.7" y1="1215.0" x2="641.7" y2="1221.0" stroke="#E2E4E8" stroke-width="1.6" />
<line x1="672.0" y1="1191.9" x2="678.0" y2="1191.9" stroke="#E2E4E8" stroke-width="1.6" />
<line x1="704.3" y1="1169.6" x2="710.3" y2="1169.6" stroke="#E2E4E8" stroke-width="1.6" />
<line x1="735.2" y1="1148.2" x2="741.2" y2="1148.2" stroke="#E2E4E8" stroke-width="1.6" />
<line x1="765.0" y1="1127.6" x2="771.0" y2="1127.6" stroke="#E2E4E8" stroke-width="1.6" />
<line x1="793.5" y1="1107.9" x2="799.5" y2="1107.9" stroke="#E2E4E8" stroke-width="1.6" />
<line x1="821.2" y1="1088.7" x2="827.2" y2="1088.7" stroke="#E2E4E8" stroke-width="1.6" />
<line x1="848.1" y1="1070.1" x2="854.1" y2="1070.1" stroke="#E2E4E8" stroke-width="1.6" />
<line x1="873.9" y1="1052.2" x2="879.9" y2="1052.2" stroke="#E2E4E8" stroke-width="1.6" />
<line x1="907.5" y1="1029.0" x2="913.5" y2="1029.0" stroke="#E2E4E8" stroke-width="1.6" /></g>
<g id='c2-labels'><text x="85.3" y="1145.8" font-size="23" text-anchor="start" font-weight="normal" fill="#44546A" textLength="43.2" lengthAdjust="spacingAndGlyphs" >0.05</text>
<text x="140.5" y="1156.9" font-size="23" text-anchor="start" font-weight="normal" fill="#44546A" textLength="43.2" lengthAdjust="spacingAndGlyphs" opacity="0.72">0.15</text>
<text x="197.3" y="1168.3" font-size="23" text-anchor="start" font-weight="normal" fill="#44546A" textLength="43.2" lengthAdjust="spacingAndGlyphs" opacity="0.68">0.25</text>
<text x="254.0" y="1181.0" font-size="23" text-anchor="start" font-weight="normal" fill="#44546A" textLength="43.2" lengthAdjust="spacingAndGlyphs" opacity="0.68">0.35</text>
<text x="311.9" y="1193.3" font-size="23" text-anchor="start" font-weight="normal" fill="#44546A" textLength="43.2" lengthAdjust="spacingAndGlyphs" >0.45</text>
<text x="371.0" y="1206.0" font-size="23" text-anchor="start" font-weight="normal" fill="#44546A" textLength="43.2" lengthAdjust="spacingAndGlyphs" >0.55</text>
<text x="430.9" y="1217.7" font-size="23" text-anchor="start" font-weight="normal" fill="#44546A" textLength="43.2" lengthAdjust="spacingAndGlyphs" >0.65</text>
<text x="492.5" y="1231.0" font-size="23" text-anchor="start" font-weight="normal" fill="#44546A" textLength="43.2" lengthAdjust="spacingAndGlyphs" >0.75</text>
<text x="555.0" y="1245.0" font-size="23" text-anchor="start" font-weight="normal" fill="#44546A" textLength="43.2" lengthAdjust="spacingAndGlyphs" >0.85</text>
<text x="618.6" y="1257.3" font-size="23" text-anchor="start" font-weight="normal" fill="#44546A" textLength="43.2" lengthAdjust="spacingAndGlyphs" opacity="0.85">0.95</text><text x="672.7" y="1221.7" font-size="23" text-anchor="start" font-weight="normal" fill="#44546A" textLength="43.2" lengthAdjust="spacingAndGlyphs" >0.05</text>
<text x="738.3" y="1176.0" font-size="23" text-anchor="start" font-weight="normal" fill="#44546A" textLength="43.2" lengthAdjust="spacingAndGlyphs" >0.25</text>
<text x="800.8" y="1133.2" font-size="23" text-anchor="start" font-weight="normal" fill="#44546A" textLength="43.2" lengthAdjust="spacingAndGlyphs" >0.45</text>
<text x="858.4" y="1093.2" font-size="23" text-anchor="start" font-weight="normal" fill="#44546A" textLength="43.2" lengthAdjust="spacingAndGlyphs" >0.65</text>
<text x="912.6" y="1055.2" font-size="23" text-anchor="start" font-weight="normal" fill="#44546A" textLength="43.2" lengthAdjust="spacingAndGlyphs" >0.85</text></g>
<g id='c2-ylab'><text x="76.7" y="944.2" font-size="23" text-anchor="end" font-weight="normal" fill="#44546A" textLength="43.6" lengthAdjust="spacingAndGlyphs" >0.20</text>
<text x="77.8" y="986.7" font-size="23" text-anchor="end" font-weight="normal" fill="#44546A" textLength="43.6" lengthAdjust="spacingAndGlyphs" >0.15</text>
<text x="80.0" y="1028.0" font-size="23" text-anchor="end" font-weight="normal" fill="#44546A" textLength="43.6" lengthAdjust="spacingAndGlyphs" >0.10</text>
<text x="81.2" y="1068.7" font-size="23" text-anchor="end" font-weight="normal" fill="#44546A" textLength="43.6" lengthAdjust="spacingAndGlyphs" >0.05</text>
<text x="83.3" y="1108.7" font-size="23" text-anchor="end" font-weight="normal" fill="#44546A" textLength="43.6" lengthAdjust="spacingAndGlyphs" >0.00</text>
<text x="83.8" y="1148.7" font-size="23" text-anchor="end" font-weight="normal" fill="#44546A" textLength="50.6" lengthAdjust="spacingAndGlyphs" >-0.05</text>
<text x="86.7" y="1189.2" font-size="23" text-anchor="end" font-weight="normal" fill="#44546A" textLength="50.6" lengthAdjust="spacingAndGlyphs" >-0.10</text>
<text x="87.8" y="1228.3" font-size="23" text-anchor="end" font-weight="normal" fill="#44546A" textLength="50.6" lengthAdjust="spacingAndGlyphs" >-0.15</text>
<text x="90.0" y="1267.5" font-size="23" text-anchor="end" font-weight="normal" fill="#44546A" textLength="50.6" lengthAdjust="spacingAndGlyphs" >-0.20</text></g>
<text x="582.8" y="778.6" font-size="26" text-anchor="middle" font-weight="bold" fill="#000000" textLength="92.5" lengthAdjust="spacingAndGlyphs" >GEOSDL</text>
<text x="378.0" y="1413.5" font-size="25.5" text-anchor="middle" font-weight="bold" fill="#44546A" textLength="42.2" lengthAdjust="spacingAndGlyphs" >Tau</text>
<text transform="translate(996.3,1279) rotate(-90)" font-size="25.5" text-anchor="middle" font-weight="bold" fill="#44546A" textLength="65.6" lengthAdjust="spacingAndGlyphs">Theta</text>
<g id='c2-legend'><rect x="1028.4" y="936.1" width="14.4" height="14.4" fill="#A4440C"/><rect x="1028.4" y="936.1" width="14.4" height="14.4" fill="url(#sw)"/>
<text x="1048.5" y="951.5" font-size="23" text-anchor="start" font-weight="normal" fill="#44546A" textLength="97.0" lengthAdjust="spacingAndGlyphs" >0.15-0.20</text>
<rect x="1028.4" y="984.7" width="14.4" height="14.4" fill="#1F3D7A"/><rect x="1028.4" y="984.7" width="14.4" height="14.4" fill="url(#sw)"/>
<text x="1048.5" y="1000.1" font-size="23" text-anchor="start" font-weight="normal" fill="#44546A" textLength="97.0" lengthAdjust="spacingAndGlyphs" >0.10-0.15</text>
<rect x="1028.4" y="1032.3" width="14.4" height="14.4" fill="#66A93A"/><rect x="1028.4" y="1032.3" width="14.4" height="14.4" fill="url(#sw)"/>
<text x="1048.5" y="1047.7" font-size="23" text-anchor="start" font-weight="normal" fill="#44546A" textLength="97.0" lengthAdjust="spacingAndGlyphs" >0.05-0.10</text>
<rect x="1028.4" y="1079.8" width="14.4" height="14.4" fill="#4A98DC"/><rect x="1028.4" y="1079.8" width="14.4" height="14.4" fill="url(#sw)"/>
<text x="1048.5" y="1095.2" font-size="23" text-anchor="start" font-weight="normal" fill="#44546A" textLength="97.0" lengthAdjust="spacingAndGlyphs" >0.00-0.05</text>
<rect x="1028.4" y="1127.8" width="14.4" height="14.4" fill="#FFC400"/><rect x="1028.4" y="1127.8" width="14.4" height="14.4" fill="url(#sw)"/>
<text x="1048.5" y="1143.2" font-size="23" text-anchor="start" font-weight="normal" fill="#44546A" textLength="105.0" lengthAdjust="spacingAndGlyphs" >-0.05-0.00</text>
<rect x="1028.4" y="1175.8" width="14.4" height="14.4" fill="#9C9C9C"/><rect x="1028.4" y="1175.8" width="14.4" height="14.4" fill="url(#sw)"/>
<text x="1048.5" y="1191.2" font-size="23" text-anchor="start" font-weight="normal" fill="#44546A" textLength="112.5" lengthAdjust="spacingAndGlyphs" >-0.10--0.05</text>
<rect x="1028.4" y="1223.3" width="14.4" height="14.4" fill="#E9701E"/><rect x="1028.4" y="1223.3" width="14.4" height="14.4" fill="url(#sw)"/>
<text x="1048.5" y="1238.7" font-size="23" text-anchor="start" font-weight="normal" fill="#44546A" textLength="112.5" lengthAdjust="spacingAndGlyphs" >-0.15--0.10</text>
<rect x="1028.4" y="1271.8" width="14.4" height="14.4" fill="#3366C4"/><rect x="1028.4" y="1271.8" width="14.4" height="14.4" fill="url(#sw)"/>
<text x="1048.5" y="1287.2" font-size="23" text-anchor="start" font-weight="normal" fill="#44546A" textLength="112.5" lengthAdjust="spacingAndGlyphs" >-0.20--0.15</text></g>
</svg></body></html>
